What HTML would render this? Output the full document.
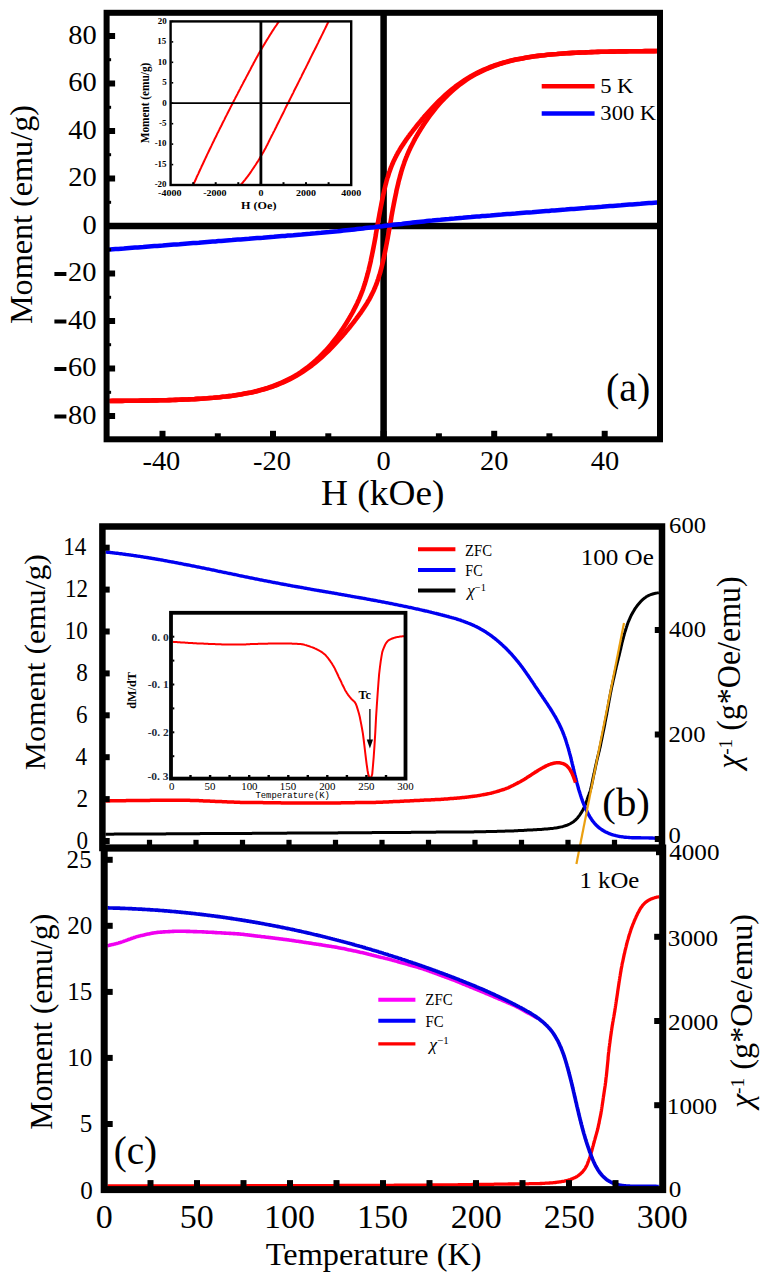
<!DOCTYPE html>
<html><head><meta charset="utf-8"><style>
html,body{margin:0;padding:0;background:#fff;}
body{width:776px;height:1280px;overflow:hidden;}
svg{display:block;}
</style></head><body>
<svg width="776" height="1280" viewBox="0 0 776 1280">
<rect width="776" height="1280" fill="#fff"/>
<line x1="383.6" y1="12.8" x2="383.6" y2="439.3" stroke="#000" stroke-width="6.5" stroke-linecap="butt"/>
<line x1="106.6" y1="226" x2="660" y2="226" stroke="#000" stroke-width="6.5" stroke-linecap="butt"/>
<polyline points="109.2,401 112.3,400.9 115.5,400.9 118.6,400.9 121.8,400.9 124.9,400.8 128,400.8 131.2,400.8 134.3,400.7 137.5,400.7 140.6,400.6 143.8,400.6 146.9,400.6 150.1,400.5 153.2,400.4 156.4,400.4 159.5,400.3 162.7,400.2 165.8,400.2 169,400.1 172.1,400 175.3,399.9 178.4,399.8 181.6,399.6 184.7,399.5 187.9,399.4 191,399.2 194.2,399.1 197.3,398.9 200.5,398.7 203.6,398.5 206.7,398.3 209.9,398 213,397.8 216.2,397.5 219.3,397.2 222.5,396.8 225.6,396.5 228.8,396.1 231.9,395.7 235.1,395.2 238.2,394.7 241.3,394.2 244.5,393.6 247.6,393 250.8,392.4 253.9,391.7 257,390.9 260.2,390.1 263.3,389.2 266.5,388.3 269.6,387.2 272.7,386.2 275.8,385 279,383.7 282.1,382.4 285.2,380.9 288.3,379.4 291.5,377.7 294.6,376 297.7,374.1 300.8,372.1 303.9,369.9 307,367.7 310,365.3 313.1,362.7 316.2,360 319.2,357.2 322.2,354.1 325.3,351 328.2,347.7 331.2,344.2 334.1,340.5 337.1,336.7 337.1,336.7 337.3,336.3 337.6,336 337.9,335.6 338.1,335.2 338.4,334.8 338.7,334.5 339,334.1 339.2,333.7 339.5,333.3 339.8,333 340,332.6 340.3,332.2 340.6,331.8 340.8,331.4 341.1,331 341.4,330.6 341.6,330.2 341.9,329.9 342.2,329.5 342.4,329.1 342.7,328.7 343,328.3 343.2,327.9 343.5,327.5 343.8,327.1 344,326.7 344.3,326.2 344.6,325.8 344.8,325.4 345.1,325 345.3,324.6 345.6,324.2 345.9,323.8 346.1,323.3 346.4,322.9 346.7,322.5 346.9,322.1 347.2,321.7 347.4,321.2 347.7,320.8 348,320.4 348.2,319.9 348.5,319.5 348.7,319.1 349,318.6 349.3,318.2 349.5,317.7 349.8,317.3 350,316.8 350.3,316.4 350.6,315.9 350.8,315.5 351.1,315 351.3,314.6 351.6,314.1 351.9,313.6 352.1,313.2 352.4,312.7 352.6,312.2 352.9,311.7 353.2,311.3 353.4,310.8 353.7,310.3 353.9,309.8 354.2,309.3 354.4,308.8 354.7,308.3 355,307.8 355.2,307.3 355.5,306.8 355.7,306.3 356,305.8 356.2,305.2 356.5,304.7 356.8,304.2 357,303.6 357.3,303.1 357.5,302.5 357.8,302 358.1,301.4 358.3,300.8 358.6,300.3 358.8,299.7 359.1,299.1 359.3,298.5 359.6,297.9 359.9,297.3 360.1,296.6 360.4,296 360.6,295.4 360.9,294.7 361.2,294.1 361.4,293.4 361.7,292.7 362,292 362.2,291.3 362.5,290.6 362.8,289.9 363,289.1 363.3,288.4 363.5,287.6 363.8,286.8 364.1,286 364.3,285.2 364.6,284.4 364.9,283.5 365.2,282.6 365.4,281.8 365.7,280.9 366,279.9 366.2,279 366.5,278 366.8,277 367.1,276 367.3,275 367.6,274 367.9,272.9 368.2,271.8 368.5,270.7 368.8,269.5 369,268.4 369.3,267.2 369.6,266 369.9,264.7 370.2,263.5 370.5,262.2 370.8,260.9 371,259.5 371.3,258.2 371.6,256.8 371.9,255.4 372.2,253.9 372.5,252.5 372.8,251 373.1,249.5 373.4,248 373.7,246.4 374,244.9 374.3,243.3 374.6,241.7 374.9,240.1 375.2,238.5 375.5,236.8 375.8,235.2 376,233.5 376.3,231.9 376.6,230.2 376.9,228.5 377.2,226.8 377.5,225.2 377.8,223.5 378.1,221.8 378.4,220.1 378.7,218.5 379,216.8 379.3,215.2 379.6,213.5 379.9,211.9 380.2,210.3 380.5,208.7 380.8,207.1 381.1,205.6 381.4,204 381.7,202.5 382,201 382.3,199.5 382.6,198.1 382.9,196.6 383.2,195.2 383.5,193.8 383.8,192.5 384.1,191.1 384.4,189.8 384.7,188.5 385,187.3 385.3,186 385.6,184.8 385.9,183.6 386.2,182.5 386.5,181.3 386.8,180.2 387.1,179.1 387.4,178 387.8,177 388.1,176 388.4,175 388.7,174 389,173 389.3,172.1 389.7,171.1 390,170.2 390.3,169.4 390.6,168.5 390.9,167.6 391.3,166.8 391.6,166 391.9,165.2 392.2,164.4 392.6,163.6 392.9,162.9 393.2,162.1 393.5,161.4 393.9,160.7 394.2,160 394.5,159.3 394.9,158.6 395.2,157.9 395.5,157.3 395.9,156.6 396.2,156 396.5,155.4 396.8,154.7 397.2,154.1 397.5,153.5 397.8,152.9 398.2,152.3 398.5,151.7 398.8,151.2 399.2,150.6 399.5,150 399.8,149.5 400.2,148.9 400.5,148.4 400.8,147.8 401.2,147.3 401.5,146.8 401.8,146.2 402.2,145.7 402.5,145.2 402.8,144.7 403.2,144.2 403.5,143.7 403.8,143.2 404.2,142.7 404.5,142.2 404.8,141.7 405.2,141.2 405.5,140.7 405.8,140.3 406.2,139.8 406.5,139.3 406.8,138.8 407.2,138.4 407.5,137.9 407.8,137.4 408.2,137 408.5,136.5 408.8,136.1 409.2,135.6 409.5,135.2 409.8,134.7 410.2,134.3 410.5,133.8 410.8,133.4 411.2,132.9 411.5,132.5 411.8,132.1 412.2,131.6 412.5,131.2 412.8,130.8 413.1,130.3 413.5,129.9 413.8,129.5 414.1,129.1 414.5,128.7 414.8,128.2 415.1,127.8 415.5,127.4 415.8,127 416.1,126.6 416.4,126.2 416.8,125.8 417.1,125.3 417.4,124.9 417.7,124.5 418.1,124.1 418.4,123.7 418.7,123.3 419.1,122.9 419.4,122.5 419.7,122.1 420,121.8 420.4,121.4 420.7,121 421,120.6 421.3,120.2 421.6,119.8 422,119.4 422.3,119 422.6,118.7 422.9,118.3 423.3,117.9 423.6,117.5 423.9,117.2 424.2,116.8 424.5,116.4 424.9,116 425.2,115.7 425.5,115.3 425.5,115.3 428.9,111.5 432.3,107.8 435.6,104.3 438.9,101 442.2,97.9 445.5,94.8 448.7,92 451.9,89.3 455.2,86.7 458.4,84.3 461.6,82.1 464.8,79.9 468,77.9 471.2,76 474.4,74.3 477.6,72.6 480.7,71.1 483.9,69.6 487.1,68.3 490.3,67 493.4,65.8 496.6,64.8 499.7,63.7 502.9,62.8 506.1,61.9 509.2,61.1 512.4,60.3 515.5,59.6 518.7,59 521.9,58.4 525,57.8 528.2,57.3 531.3,56.8 534.5,56.3 537.6,55.9 540.8,55.5 543.9,55.2 547.1,54.8 550.2,54.5 553.4,54.2 556.5,54 559.7,53.7 562.8,53.5 566,53.3 569.1,53.1 572.3,52.9 575.5,52.8 578.6,52.6 581.8,52.5 584.9,52.4 588.1,52.2 591.2,52.1 594.4,52 597.5,51.9 600.7,51.8 603.8,51.8 606.9,51.7 610.1,51.6 613.2,51.6 616.4,51.5 619.5,51.4 622.7,51.4 625.8,51.4 629,51.3 632.1,51.3 635.3,51.2 638.4,51.2 641.6,51.2 644.7,51.1 647.9,51.1 651,51.1 654.2,51.1 657.3,51" fill="none" stroke="#ff0000" stroke-width="4.6" stroke-linejoin="round" stroke-linecap="butt"/>
<polyline points="109.9,401 113,400.9 116.2,400.9 119.3,400.9 122.5,400.9 125.6,400.8 128.8,400.8 131.9,400.8 135.1,400.7 138.2,400.7 141.4,400.6 144.5,400.6 147.7,400.6 150.8,400.5 154,400.4 157.1,400.4 160.3,400.3 163.4,400.2 166.5,400.2 169.7,400.1 172.8,400 176,399.9 179.1,399.8 182.3,399.6 185.4,399.5 188.6,399.4 191.7,399.2 194.9,399.1 198.1,398.9 201.2,398.7 204.4,398.5 207.5,398.3 210.7,398 213.8,397.8 217,397.5 220.1,397.2 223.3,396.8 226.4,396.5 229.6,396.1 232.7,395.7 235.9,395.2 239,394.7 242.2,394.2 245.3,393.6 248.5,393 251.7,392.4 254.8,391.7 258,390.9 261.1,390.1 264.3,389.2 267.5,388.3 270.6,387.2 273.8,386.2 276.9,385 280.1,383.7 283.3,382.4 286.5,380.9 289.6,379.4 292.8,377.7 296,376 299.2,374.1 302.4,372.1 305.6,369.9 308.8,367.7 312,365.3 315.3,362.7 318.5,360 321.7,357.2 325,354.1 328.3,351 331.6,347.7 334.9,344.2 338.3,340.5 341.7,336.7 341.7,336.7 342,336.3 342.3,336 342.7,335.6 343,335.2 343.3,334.8 343.6,334.5 343.9,334.1 344.3,333.7 344.6,333.3 344.9,333 345.2,332.6 345.6,332.2 345.9,331.8 346.2,331.4 346.5,331 346.8,330.6 347.2,330.2 347.5,329.9 347.8,329.5 348.1,329.1 348.5,328.7 348.8,328.3 349.1,327.9 349.5,327.5 349.8,327.1 350.1,326.7 350.4,326.2 350.8,325.8 351.1,325.4 351.4,325 351.7,324.6 352.1,324.2 352.4,323.8 352.7,323.3 353.1,322.9 353.4,322.5 353.7,322.1 354.1,321.7 354.4,321.2 354.7,320.8 355,320.4 355.4,319.9 355.7,319.5 356,319.1 356.4,318.6 356.7,318.2 357,317.7 357.4,317.3 357.7,316.8 358,316.4 358.4,315.9 358.7,315.5 359,315 359.4,314.6 359.7,314.1 360,313.6 360.4,313.2 360.7,312.7 361,312.2 361.4,311.7 361.7,311.3 362,310.8 362.4,310.3 362.7,309.8 363,309.3 363.4,308.8 363.7,308.3 364,307.8 364.4,307.3 364.7,306.8 365,306.3 365.4,305.8 365.7,305.2 366,304.7 366.4,304.2 366.7,303.6 367,303.1 367.4,302.5 367.7,302 368,301.4 368.4,300.8 368.7,300.3 369,299.7 369.4,299.1 369.7,298.5 370,297.9 370.4,297.3 370.7,296.6 371,296 371.3,295.4 371.7,294.7 372,294.1 372.3,293.4 372.7,292.7 373,292 373.3,291.3 373.7,290.6 374,289.9 374.3,289.1 374.6,288.4 375,287.6 375.3,286.8 375.6,286 375.9,285.2 376.3,284.4 376.6,283.5 376.9,282.6 377.2,281.8 377.5,280.9 377.9,279.9 378.2,279 378.5,278 378.8,277 379.1,276 379.4,275 379.8,274 380.1,272.9 380.4,271.8 380.7,270.7 381,269.5 381.3,268.4 381.6,267.2 381.9,266 382.2,264.7 382.5,263.5 382.8,262.2 383.1,260.9 383.4,259.5 383.7,258.2 384,256.8 384.3,255.4 384.6,253.9 384.9,252.5 385.2,251 385.5,249.5 385.8,248 386.1,246.4 386.4,244.9 386.7,243.3 387,241.7 387.3,240.1 387.6,238.5 387.9,236.8 388.2,235.2 388.5,233.5 388.8,231.9 389.1,230.2 389.4,228.5 389.7,226.8 390,225.2 390.3,223.5 390.6,221.8 390.9,220.1 391.2,218.5 391.4,216.8 391.7,215.2 392,213.5 392.3,211.9 392.6,210.3 392.9,208.7 393.2,207.1 393.5,205.6 393.8,204 394.1,202.5 394.4,201 394.7,199.5 395,198.1 395.3,196.6 395.6,195.2 395.9,193.8 396.2,192.5 396.4,191.1 396.7,189.8 397,188.5 397.3,187.3 397.6,186 397.9,184.8 398.2,183.6 398.4,182.5 398.7,181.3 399,180.2 399.3,179.1 399.6,178 399.9,177 400.1,176 400.4,175 400.7,174 401,173 401.2,172.1 401.5,171.1 401.8,170.2 402,169.4 402.3,168.5 402.6,167.6 402.9,166.8 403.1,166 403.4,165.2 403.7,164.4 403.9,163.6 404.2,162.9 404.4,162.1 404.7,161.4 405,160.7 405.2,160 405.5,159.3 405.8,158.6 406,157.9 406.3,157.3 406.6,156.6 406.8,156 407.1,155.4 407.3,154.7 407.6,154.1 407.9,153.5 408.1,152.9 408.4,152.3 408.6,151.7 408.9,151.2 409.1,150.6 409.4,150 409.7,149.5 409.9,148.9 410.2,148.4 410.4,147.8 410.7,147.3 411,146.8 411.2,146.2 411.5,145.7 411.7,145.2 412,144.7 412.2,144.2 412.5,143.7 412.8,143.2 413,142.7 413.3,142.2 413.5,141.7 413.8,141.2 414,140.7 414.3,140.3 414.6,139.8 414.8,139.3 415.1,138.8 415.3,138.4 415.6,137.9 415.9,137.4 416.1,137 416.4,136.5 416.6,136.1 416.9,135.6 417.2,135.2 417.4,134.7 417.7,134.3 417.9,133.8 418.2,133.4 418.5,132.9 418.7,132.5 419,132.1 419.2,131.6 419.5,131.2 419.8,130.8 420,130.3 420.3,129.9 420.5,129.5 420.8,129.1 421.1,128.7 421.3,128.2 421.6,127.8 421.9,127.4 422.1,127 422.4,126.6 422.6,126.2 422.9,125.8 423.2,125.3 423.4,124.9 423.7,124.5 424,124.1 424.2,123.7 424.5,123.3 424.8,122.9 425,122.5 425.3,122.1 425.6,121.8 425.8,121.4 426.1,121 426.4,120.6 426.6,120.2 426.9,119.8 427.2,119.4 427.4,119 427.7,118.7 428,118.3 428.2,117.9 428.5,117.5 428.8,117.2 429.1,116.8 429.3,116.4 429.6,116 429.9,115.7 430.1,115.3 430.1,115.3 433.1,111.5 436,107.8 439,104.3 441.9,101 445,97.9 448,94.8 451,92 454.1,89.3 457.2,86.7 460.2,84.3 463.3,82.1 466.4,79.9 469.5,77.9 472.6,76 475.7,74.3 478.9,72.6 482,71.1 485.1,69.6 488.2,68.3 491.4,67 494.5,65.8 497.6,64.8 500.7,63.7 503.9,62.8 507,61.9 510.2,61.1 513.3,60.3 516.4,59.6 519.6,59 522.7,58.4 525.9,57.8 529,57.3 532.1,56.8 535.3,56.3 538.4,55.9 541.6,55.5 544.7,55.2 547.9,54.8 551,54.5 554.2,54.2 557.3,54 560.5,53.7 563.6,53.5 566.7,53.3 569.9,53.1 573,52.9 576.2,52.8 579.3,52.6 582.5,52.5 585.6,52.4 588.8,52.2 591.9,52.1 595.1,52 598.2,51.9 601.4,51.8 604.5,51.8 607.7,51.7 610.8,51.6 614,51.6 617.1,51.5 620.3,51.4 623.4,51.4 626.6,51.4 629.7,51.3 632.9,51.3 636,51.2 639.2,51.2 642.3,51.2 645.4,51.1 648.6,51.1 651.7,51.1 654.9,51.1 658,51" fill="none" stroke="#ff0000" stroke-width="4.6" stroke-linejoin="round" stroke-linecap="butt"/>
<polyline points="107.2,249.7 110,249.5 112.8,249.3 115.5,249.1 118.3,248.9 121.1,248.7 123.9,248.5 126.6,248.2 129.4,248 132.2,247.8 135,247.6 137.8,247.4 140.5,247.2 143.3,247 146.1,246.7 148.9,246.5 151.6,246.3 154.4,246.1 157.2,245.9 160,245.7 162.8,245.5 165.5,245.2 168.3,245 171.1,244.8 173.9,244.6 176.6,244.4 179.4,244.2 182.2,243.9 185,243.7 187.8,243.5 190.5,243.3 193.3,243.1 196.1,242.9 198.9,242.7 201.6,242.4 204.4,242.2 207.2,242 210,241.8 212.8,241.6 215.5,241.4 218.3,241.1 221.1,240.9 223.9,240.7 226.6,240.5 229.4,240.3 232.2,240.1 235,239.8 237.8,239.6 240.5,239.4 243.3,239.2 246.1,239 248.9,238.8 251.7,238.5 254.4,238.3 257.2,238.1 260,237.9 262.8,237.7 265.5,237.4 268.3,237.2 271.1,237 273.9,236.8 276.7,236.5 279.4,236.3 282.2,236.1 285,235.9 287.8,235.6 290.5,235.4 293.3,235.2 296.1,234.9 298.9,234.7 301.7,234.5 304.4,234.2 307.2,234 310,233.8 312.8,233.5 315.5,233.3 318.3,233 321.1,232.8 323.9,232.5 326.7,232.2 329.4,232 332.2,231.7 335,231.4 337.8,231.2 340.5,230.9 343.3,230.6 346.1,230.3 348.9,230 351.7,229.7 354.4,229.4 357.2,229.1 360,228.8 362.8,228.5 365.5,228.1 368.3,227.8 371.1,227.5 373.9,227.2 376.7,226.8 379.4,226.5 382.2,226.2 385,225.8 387.8,225.5 390.5,225.2 393.3,224.8 396.1,224.5 398.9,224.2 401.7,223.9 404.4,223.5 407.2,223.2 410,222.9 412.8,222.6 415.5,222.3 418.3,222 421.1,221.7 423.9,221.4 426.7,221.1 429.4,220.8 432.2,220.6 435,220.3 437.8,220 440.5,219.8 443.3,219.5 446.1,219.2 448.9,219 451.7,218.7 454.4,218.5 457.2,218.2 460,218 462.8,217.8 465.5,217.5 468.3,217.3 471.1,217.1 473.9,216.8 476.7,216.6 479.4,216.4 482.2,216.1 485,215.9 487.8,215.7 490.5,215.5 493.3,215.2 496.1,215 498.9,214.8 501.7,214.6 504.4,214.3 507.2,214.1 510,213.9 512.8,213.7 515.5,213.5 518.3,213.2 521.1,213 523.9,212.8 526.7,212.6 529.4,212.4 532.2,212.2 535,211.9 537.8,211.7 540.6,211.5 543.3,211.3 546.1,211.1 548.9,210.9 551.7,210.6 554.4,210.4 557.2,210.2 560,210 562.8,209.8 565.6,209.6 568.3,209.3 571.1,209.1 573.9,208.9 576.7,208.7 579.4,208.5 582.2,208.3 585,208.1 587.8,207.8 590.6,207.6 593.3,207.4 596.1,207.2 598.9,207 601.7,206.8 604.4,206.5 607.2,206.3 610,206.1 612.8,205.9 615.6,205.7 618.3,205.5 621.1,205.3 623.9,205 626.7,204.8 629.4,204.6 632.2,204.4 635,204.2 637.8,204 640.6,203.8 643.3,203.5 646.1,203.3 648.9,203.1 651.7,202.9 654.4,202.7 657.2,202.5 660,202.3" fill="none" stroke="#0000ff" stroke-width="4.5" stroke-linejoin="round" stroke-linecap="butt"/>
<rect x="106.6" y="12.8" width="553.4" height="426.5" fill="none" stroke="#000" stroke-width="6.0"/>
<rect x="108.6" y="413" width="6.5" height="6" fill="#000"/>
<rect x="108.6" y="365.5" width="6.5" height="6" fill="#000"/>
<rect x="108.6" y="318" width="6.5" height="6" fill="#000"/>
<rect x="108.6" y="270.5" width="6.5" height="6" fill="#000"/>
<rect x="108.6" y="223" width="6.5" height="6" fill="#000"/>
<rect x="108.6" y="175.5" width="6.5" height="6" fill="#000"/>
<rect x="108.6" y="128" width="6.5" height="6" fill="#000"/>
<rect x="108.6" y="80.5" width="6.5" height="6" fill="#000"/>
<rect x="108.6" y="33" width="6.5" height="6" fill="#000"/>
<rect x="108.6" y="390.8" width="2.5" height="3" fill="#000"/>
<rect x="108.6" y="343.2" width="2.5" height="3" fill="#000"/>
<rect x="108.6" y="295.8" width="2.5" height="3" fill="#000"/>
<rect x="108.6" y="248.2" width="2.5" height="3" fill="#000"/>
<rect x="108.6" y="200.8" width="2.5" height="3" fill="#000"/>
<rect x="108.6" y="153.2" width="2.5" height="3" fill="#000"/>
<rect x="108.6" y="105.8" width="2.5" height="3" fill="#000"/>
<rect x="108.6" y="58.2" width="2.5" height="3" fill="#000"/>
<rect x="159.5" y="430.8" width="6" height="6.5" fill="#000"/>
<rect x="270" y="430.8" width="6" height="6.5" fill="#000"/>
<rect x="380.6" y="430.8" width="6" height="6.5" fill="#000"/>
<rect x="491.2" y="430.8" width="6" height="6.5" fill="#000"/>
<rect x="601.7" y="430.8" width="6" height="6.5" fill="#000"/>
<rect x="214.8" y="433.3" width="6" height="4" fill="#000"/>
<rect x="325.3" y="433.3" width="6" height="4" fill="#000"/>
<rect x="435.9" y="433.3" width="6" height="4" fill="#000"/>
<rect x="546.4" y="433.3" width="6" height="4" fill="#000"/>
<text transform="translate(68.36,43.56) scale(1.0468,1)" font-family='"Liberation Serif", serif' font-size="27.21" font-weight="normal">80</text>
<text transform="translate(82.50,233.71) scale(1.0468,1)" font-family='"Liberation Serif", serif' font-size="27.21" font-weight="normal">0</text>
<text transform="translate(68.26,186.21) scale(1.0468,1)" font-family='"Liberation Serif", serif' font-size="27.21" font-weight="normal">20</text>
<text transform="translate(68.26,138.71) scale(1.0468,1)" font-family='"Liberation Serif", serif' font-size="27.21" font-weight="normal">40</text>
<text transform="translate(68.26,91.21) scale(1.0468,1)" font-family='"Liberation Serif", serif' font-size="27.21" font-weight="normal">60</text>
<text transform="translate(68.06,423.71) scale(1.0468,1)" font-family='"Liberation Serif", serif' font-size="27.21" font-weight="normal">80</text>
<rect x="54.4" y="414.5" width="12" height="4" fill="#000"/>
<text transform="translate(68.06,376.21) scale(1.0468,1)" font-family='"Liberation Serif", serif' font-size="27.21" font-weight="normal">60</text>
<rect x="54.4" y="367" width="12" height="4" fill="#000"/>
<text transform="translate(68.06,328.71) scale(1.0468,1)" font-family='"Liberation Serif", serif' font-size="27.21" font-weight="normal">40</text>
<rect x="54.4" y="319.5" width="12" height="4" fill="#000"/>
<text transform="translate(68.06,281.21) scale(1.0468,1)" font-family='"Liberation Serif", serif' font-size="27.21" font-weight="normal">20</text>
<rect x="54.4" y="272" width="12" height="4" fill="#000"/>
<text transform="translate(142.40,470.06) scale(1.0468,1)" font-family='"Liberation Serif", serif' font-size="27.21" font-weight="normal">-40</text>
<text transform="translate(252.96,470.06) scale(1.0468,1)" font-family='"Liberation Serif", serif' font-size="27.21" font-weight="normal">-20</text>
<text transform="translate(376.48,470.06) scale(1.0468,1)" font-family='"Liberation Serif", serif' font-size="27.21" font-weight="normal">0</text>
<text transform="translate(479.92,470.06) scale(1.0468,1)" font-family='"Liberation Serif", serif' font-size="27.21" font-weight="normal">20</text>
<text transform="translate(590.77,470.06) scale(1.0468,1)" font-family='"Liberation Serif", serif' font-size="27.21" font-weight="normal">40</text>
<text transform="translate(321.08,505.29) scale(1.0308,1)" font-family='"Liberation Serif", serif' font-size="36.22" font-weight="normal">H (kOe)</text>
<text transform="translate(31.54,324.07) rotate(-90) scale(1.0313,1)" font-family='"Liberation Serif", serif' font-size="31.22" font-weight="normal">Moment (emu/g)</text>
<line x1="541.7" y1="86.2" x2="594.6" y2="86.2" stroke="#ff0000" stroke-width="4.5" stroke-linecap="butt"/>
<line x1="541.7" y1="113.6" x2="594.6" y2="113.6" stroke="#0000ff" stroke-width="4.5" stroke-linecap="butt"/>
<text transform="translate(600.14,93.09) scale(1.0599,1)" font-family='"Liberation Serif", serif' font-size="21.36" font-weight="normal">5 K</text>
<text transform="translate(600.37,120.37) scale(1.0513,1)" font-family='"Liberation Serif", serif' font-size="21.47" font-weight="normal">300 K</text>
<text transform="translate(606.00,400.64) scale(1.0145,1)" font-family='"Liberation Serif", serif' font-size="39.33" font-weight="normal">(a)</text>
<rect x="170.6" y="21.4" width="180.6" height="163.6" fill="#fff"/>
<polyline points="193.2,185 194,183.1 194.9,181.2 195.8,179.3 196.6,177.3 197.5,175.4 198.4,173.6 199.2,171.7 200.1,169.8 201,167.9 201.8,166 202.7,164.2 203.6,162.3 204.4,160.5 205.3,158.6 206.2,156.8 207,154.9 207.9,153.1 208.8,151.3 209.6,149.5 210.5,147.7 211.4,145.9 212.2,144.1 213.1,142.3 214,140.5 214.8,138.7 215.7,137 216.6,135.2 217.4,133.4 218.3,131.7 219.2,129.9 220,128.2 220.9,126.5 221.8,124.7 222.6,123 223.5,121.3 224.4,119.6 225.2,117.8 226.1,116.1 227,114.4 227.8,112.7 228.7,111 229.6,109.3 230.4,107.6 231.3,105.9 232.2,104.2 233,102.5 233.9,100.8 234.8,99.1 235.6,97.4 236.5,95.8 237.4,94.1 238.2,92.4 239.1,90.8 240,89.1 240.8,87.4 241.7,85.8 242.6,84.1 243.4,82.5 244.3,80.8 245.2,79.2 246,77.6 246.9,75.9 247.8,74.3 248.6,72.7 249.5,71 250.4,69.4 251.2,67.7 252.1,66.1 253,64.5 253.8,62.8 254.7,61.2 255.6,59.6 256.4,58 257.3,56.4 258.2,54.8 259,53.3 259.9,51.8 260.8,50.3 261.6,48.8 262.5,47.3 263.4,45.8 264.2,44.4 265.1,42.9 266,41.5 266.8,40.1 267.7,38.7 268.6,37.3 269.4,35.9 270.3,34.5 271.2,33.1 272,31.8 272.9,30.4 273.8,29.1 274.6,27.8 275.5,26.5 276.4,25.2 277.2,23.9 278.1,22.6 279,21.4" fill="none" stroke="#ff0000" stroke-width="2.0" stroke-linejoin="round" stroke-linecap="butt"/>
<polyline points="240.6,185 241.5,184 242.4,183 243.3,181.9 244.1,180.9 245,179.8 245.9,178.6 246.8,177.5 247.7,176.3 248.6,175.1 249.5,173.9 250.4,172.6 251.3,171.3 252.1,170 253,168.7 253.9,167.4 254.8,166 255.7,164.7 256.6,163.3 257.5,161.9 258.4,160.5 259.3,159 260.1,157.6 261,156.1 261.9,154.6 262.8,153.1 263.7,151.5 264.6,149.8 265.5,148.2 266.4,146.4 267.3,144.7 268.2,142.9 269,141.2 269.9,139.4 270.8,137.6 271.7,135.8 272.6,134.1 273.5,132.3 274.4,130.6 275.3,128.8 276.2,127 277,125.3 277.9,123.5 278.8,121.7 279.7,119.9 280.6,118.1 281.5,116.3 282.4,114.5 283.3,112.7 284.2,110.9 285,109.1 285.9,107.3 286.8,105.5 287.7,103.7 288.6,102 289.5,100.2 290.4,98.4 291.3,96.6 292.2,94.8 293.1,93.1 293.9,91.3 294.8,89.5 295.7,87.7 296.6,86 297.5,84.2 298.4,82.4 299.3,80.6 300.2,78.8 301.1,77.1 301.9,75.3 302.8,73.5 303.7,71.7 304.6,69.9 305.5,68.2 306.4,66.4 307.3,64.6 308.2,62.8 309.1,61 309.9,59.2 310.8,57.4 311.7,55.6 312.6,53.8 313.5,52 314.4,50.3 315.3,48.5 316.2,46.7 317.1,44.9 318,43.1 318.8,41.3 319.7,39.5 320.6,37.7 321.5,35.9 322.4,34.1 323.3,32.2 324.2,30.4 325.1,28.6 326,26.8 326.8,25 327.7,23.2 328.6,21.4" fill="none" stroke="#ff0000" stroke-width="2.0" stroke-linejoin="round" stroke-linecap="butt"/>
<line x1="260.9" y1="21.4" x2="260.9" y2="185" stroke="#000" stroke-width="2.8" stroke-linecap="butt"/>
<line x1="170.6" y1="103.2" x2="351.2" y2="103.2" stroke="#000" stroke-width="1.8" stroke-linecap="butt"/>
<rect x="170.6" y="21.4" width="180.6" height="163.6" fill="none" stroke="#000" stroke-width="2.4"/>
<rect x="171.6" y="184.2" width="1.6" height="1.6" fill="#000"/>
<rect x="171.6" y="163.8" width="1.6" height="1.6" fill="#000"/>
<rect x="171.6" y="143.3" width="1.6" height="1.6" fill="#000"/>
<rect x="171.6" y="122.9" width="1.6" height="1.6" fill="#000"/>
<rect x="171.6" y="102.4" width="1.6" height="1.6" fill="#000"/>
<rect x="171.6" y="82" width="1.6" height="1.6" fill="#000"/>
<rect x="171.6" y="61.5" width="1.6" height="1.6" fill="#000"/>
<rect x="171.6" y="41.1" width="1.6" height="1.6" fill="#000"/>
<rect x="171.6" y="20.6" width="1.6" height="1.6" fill="#000"/>
<rect x="192.2" y="182.2" width="2" height="1.8" fill="#000"/>
<rect x="214.7" y="182.2" width="2" height="1.8" fill="#000"/>
<rect x="237.3" y="182.2" width="2" height="1.8" fill="#000"/>
<rect x="259.9" y="182.2" width="2" height="1.8" fill="#000"/>
<rect x="282.5" y="182.2" width="2" height="1.8" fill="#000"/>
<rect x="305" y="182.2" width="2" height="1.8" fill="#000"/>
<rect x="327.6" y="182.2" width="2" height="1.8" fill="#000"/>
<text transform="translate(157.28,44.01) scale(0.9860,1)" font-family='"Liberation Serif", serif' font-size="9.10" font-weight="bold">15</text>
<text transform="translate(154.63,187.31) scale(0.9860,1)" font-family='"Liberation Serif", serif' font-size="9.10" font-weight="bold">-20</text>
<text transform="translate(154.63,166.91) scale(0.9860,1)" font-family='"Liberation Serif", serif' font-size="9.10" font-weight="bold">-15</text>
<text transform="translate(154.63,146.41) scale(0.9860,1)" font-family='"Liberation Serif", serif' font-size="9.10" font-weight="bold">-10</text>
<text transform="translate(159.12,125.96) scale(0.9860,1)" font-family='"Liberation Serif", serif' font-size="9.10" font-weight="bold">-5</text>
<text transform="translate(162.17,105.51) scale(0.9860,1)" font-family='"Liberation Serif", serif' font-size="9.10" font-weight="bold">0</text>
<text transform="translate(162.17,85.06) scale(0.9860,1)" font-family='"Liberation Serif", serif' font-size="9.10" font-weight="bold">5</text>
<text transform="translate(157.68,64.61) scale(0.9860,1)" font-family='"Liberation Serif", serif' font-size="9.10" font-weight="bold">10</text>
<text transform="translate(157.68,23.71) scale(0.9860,1)" font-family='"Liberation Serif", serif' font-size="9.10" font-weight="bold">20</text>
<text transform="translate(296.00,195.83) scale(1.1724,1)" font-family='"Liberation Serif", serif' font-size="8.53" font-weight="bold">2000</text>
<text transform="translate(158.10,195.83) scale(1.1724,1)" font-family='"Liberation Serif", serif' font-size="8.53" font-weight="bold">-4000</text>
<text transform="translate(203.25,195.83) scale(1.1724,1)" font-family='"Liberation Serif", serif' font-size="8.53" font-weight="bold">-2000</text>
<text transform="translate(258.40,195.83) scale(1.1724,1)" font-family='"Liberation Serif", serif' font-size="8.53" font-weight="bold">0</text>
<text transform="translate(341.35,195.83) scale(1.1724,1)" font-family='"Liberation Serif", serif' font-size="8.53" font-weight="bold">4000</text>
<text transform="translate(241.06,208.80) scale(1.2140,1)" font-family='"Liberation Serif", serif' font-size="10.00" font-weight="bold">H (Oe)</text>
<text transform="translate(149.49,143.23) rotate(-90) scale(0.9081,1)" font-family='"Liberation Serif", serif' font-size="12.44" font-weight="bold">Moment (emu/g)</text>
<polyline points="105.5,834.2 106.5,834.2 107.5,834.2 108.5,834.2 109.5,834.2 110.5,834.2 111.5,834.2 112.5,834.2 113.5,834.2 114.5,834.1 115.5,834.1 116.5,834.1 117.5,834.1 118.5,834.1 119.5,834.1 120.5,834.1 121.5,834.1 122.5,834.1 123.5,834.1 124.5,834.1 125.5,834.1 126.5,834.1 127.5,834.1 128.5,834.1 129.5,834.1 130.5,834.1 131.5,834 132.5,834 133.5,834 134.5,834 135.5,834 136.5,834 137.5,834 138.5,834 139.5,834 140.5,834 141.5,834 142.5,834 143.5,834 144.5,834 145.5,834 146.5,834 147.5,834 148.5,834 149.5,833.9 150.5,833.9 151.5,833.9 152.5,833.9 153.5,833.9 154.5,833.9 155.5,833.9 156.5,833.9 157.5,833.9 158.5,833.9 159.5,833.9 160.5,833.9 161.5,833.9 162.5,833.9 163.5,833.9 164.5,833.9 165.5,833.9 166.5,833.8 167.5,833.8 168.5,833.8 169.5,833.8 170.5,833.8 171.5,833.8 172.5,833.8 173.5,833.8 174.5,833.8 175.5,833.8 176.5,833.8 177.5,833.8 178.5,833.8 179.5,833.8 180.5,833.8 181.5,833.8 182.5,833.8 183.5,833.7 184.5,833.7 185.5,833.7 186.5,833.7 187.5,833.7 188.5,833.7 189.5,833.7 190.5,833.7 191.5,833.7 192.5,833.7 193.5,833.7 194.5,833.7 195.5,833.7 196.5,833.7 197.5,833.7 198.5,833.7 199.5,833.7 200.5,833.6 201.5,833.6 202.5,833.6 203.5,833.6 204.5,833.6 205.5,833.6 206.5,833.6 207.5,833.6 208.5,833.6 209.5,833.6 210.5,833.6 211.5,833.6 212.5,833.6 213.5,833.6 214.5,833.6 215.5,833.6 216.5,833.6 217.5,833.6 218.5,833.5 219.5,833.5 220.5,833.5 221.5,833.5 222.5,833.5 223.5,833.5 224.5,833.5 225.5,833.5 226.5,833.5 227.5,833.5 228.5,833.5 229.5,833.5 230.5,833.5 231.5,833.5 232.5,833.5 233.5,833.5 234.5,833.5 235.5,833.4 236.5,833.4 237.5,833.4 238.5,833.4 239.5,833.4 240.5,833.4 241.5,833.4 242.5,833.4 243.5,833.4 244.5,833.4 245.5,833.4 246.5,833.4 247.5,833.4 248.5,833.4 249.5,833.4 250.5,833.4 251.5,833.4 252.5,833.3 253.5,833.3 254.5,833.3 255.5,833.3 256.5,833.3 257.5,833.3 258.5,833.3 259.5,833.3 260.5,833.3 261.5,833.3 262.5,833.3 263.5,833.3 264.5,833.3 265.5,833.3 266.5,833.3 267.5,833.3 268.5,833.3 269.5,833.3 270.5,833.2 271.5,833.2 272.5,833.2 273.5,833.2 274.5,833.2 275.5,833.2 276.5,833.2 277.5,833.2 278.5,833.2 279.5,833.2 280.5,833.2 281.5,833.2 282.5,833.2 283.5,833.2 284.5,833.2 285.5,833.2 286.5,833.2 287.5,833.1 288.5,833.1 289.5,833.1 290.5,833.1 291.5,833.1 292.5,833.1 293.5,833.1 294.5,833.1 295.5,833.1 296.5,833.1 297.5,833.1 298.5,833.1 299.5,833.1 300.5,833.1 301.5,833.1 302.5,833.1 303.5,833.1 304.5,833 305.5,833 306.5,833 307.5,833 308.5,833 309.5,833 310.5,833 311.5,833 312.5,833 313.5,833 314.5,833 315.5,833 316.5,833 317.5,833 318.5,833 319.5,833 320.5,833 321.5,832.9 322.5,832.9 323.5,832.9 324.5,832.9 325.5,832.9 326.5,832.9 327.5,832.9 328.5,832.9 329.5,832.9 330.5,832.9 331.5,832.9 332.5,832.9 333.5,832.9 334.5,832.9 335.5,832.9 336.5,832.9 337.5,832.9 338.5,832.8 339.5,832.8 340.5,832.8 341.5,832.8 342.5,832.8 343.5,832.8 344.5,832.8 345.5,832.8 346.5,832.8 347.5,832.8 348.5,832.8 349.5,832.8 350.5,832.8 351.5,832.8 352.5,832.8 353.5,832.8 354.5,832.8 355.5,832.7 356.5,832.7 357.5,832.7 358.5,832.7 359.5,832.7 360.5,832.7 361.5,832.7 362.5,832.7 363.5,832.7 364.5,832.7 365.5,832.7 366.5,832.7 367.5,832.7 368.5,832.7 369.5,832.7 370.5,832.7 371.5,832.7 372.5,832.6 373.5,832.6 374.5,832.6 375.5,832.6 376.5,832.6 377.5,832.6 378.5,832.6 379.5,832.6 380.5,832.6 381.5,832.6 382.5,832.6 383.5,832.6 384.5,832.6 385.5,832.6 386.5,832.5 387.5,832.5 388.5,832.5 389.5,832.5 390.5,832.5 391.5,832.5 392.5,832.5 393.5,832.5 394.5,832.5 395.5,832.5 396.5,832.5 397.5,832.5 398.5,832.5 399.5,832.4 400.5,832.4 401.5,832.4 402.5,832.4 403.5,832.4 404.5,832.4 405.5,832.4 406.5,832.4 407.5,832.4 408.5,832.4 409.5,832.4 410.5,832.4 411.5,832.3 412.5,832.3 413.5,832.3 414.5,832.3 415.5,832.3 416.5,832.3 417.5,832.3 418.5,832.3 419.5,832.3 420.5,832.3 421.5,832.3 422.5,832.3 423.5,832.3 424.5,832.2 425.5,832.2 426.5,832.2 427.5,832.2 428.5,832.2 429.5,832.2 430.5,832.2 431.5,832.2 432.5,832.2 433.5,832.2 434.5,832.2 435.5,832.2 436.5,832.1 437.5,832.1 438.5,832.1 439.5,832.1 440.5,832.1 441.5,832.1 442.5,832.1 443.5,832.1 444.5,832.1 445.5,832.1 446.5,832.1 447.5,832.1 448.5,832.1 449.5,832 450.5,832 451.5,832 452.5,832 453.5,832 454.5,832 455.5,832 456.5,832 457.5,832 458.5,832 459.5,832 460.5,832 461.5,831.9 462.5,831.9 463.5,831.9 464.5,831.9 465.5,831.9 466.5,831.9 467.5,831.9 468.5,831.9 469.5,831.9 470.5,831.9 471.5,831.9 472.5,831.9 473.5,831.9 474.5,831.8 475.5,831.8 476.5,831.8 477.5,831.8 478.5,831.8 479.5,831.8 480.5,831.8 481.5,831.8 482.5,831.7 483.5,831.7 484.5,831.7 485.5,831.7 486.5,831.6 487.5,831.6 488.5,831.6 489.5,831.6 490.5,831.5 491.5,831.5 492.5,831.5 493.5,831.5 494.5,831.4 495.5,831.4 496.5,831.4 497.5,831.3 498.5,831.3 499.5,831.3 500.5,831.3 501.5,831.2 502.5,831.2 503.5,831.2 504.5,831.2 505.5,831.1 506.5,831.1 507.5,831.1 508.5,831.1 509.5,831 510.5,831 511.5,830.9 512.5,830.9 513.5,830.9 514.5,830.8 515.5,830.8 516.5,830.7 517.5,830.7 518.5,830.6 519.5,830.6 520.5,830.5 521.5,830.5 522.5,830.4 523.5,830.4 524.5,830.3 525.5,830.2 526.5,830.2 527.5,830.1 528.5,830.1 529.5,830 530.5,830 531.5,829.9 532.5,829.9 533.5,829.8 534.5,829.8 535.4,829.7 536.4,829.7 537.4,829.6 538.4,829.6 539.4,829.5 540.4,829.4 541.4,829.4 542.4,829.3 543.4,829.2 544.4,829.1 545.4,829 546.4,829 547.4,828.9 548.4,828.8 549.4,828.7 550.4,828.6 551.4,828.5 552.4,828.4 553.4,828.3 554.4,828.1 555.4,828 556.4,827.9 557.3,827.7 558.3,827.5 559.3,827.3 560.3,827.1 561.2,826.9 562.2,826.7 563.2,826.4 564.1,826.1 565.1,825.8 566,825.5 567,825.2 567.9,824.8 568.8,824.4 569.7,824 570.6,823.5 571.4,823 572.3,822.5 573.1,821.9 573.9,821.4 574.7,820.7 575.4,820.1 576.1,819.4 576.8,818.7 577.5,818 578.1,817.2 578.7,816.4 579.3,815.6 579.9,814.8 580.4,814 581,813.2 581.5,812.3 582,811.4 582.5,810.6 583,809.7 583.5,808.8 583.9,807.9 584.3,807 584.7,806.1 585.1,805.2 585.5,804.3 585.8,803.3 586.2,802.4 586.5,801.4 586.8,800.5 587.1,799.6 587.4,798.6 587.8,797.7 588.1,796.7 588.4,795.8 588.8,794.8 589.1,793.9 589.4,792.9 589.8,792 590.1,791.1 590.4,790.1 590.6,789.1 590.9,788.2 591.1,787.2 591.4,786.2 591.6,785.3 591.8,784.3 592,783.3 592.2,782.3 592.4,781.4 592.6,780.4 592.8,779.4 593,778.4 593.2,777.4 593.4,776.5 593.6,775.5 593.8,774.5 594.1,773.5 594.3,772.5 594.5,771.6 594.7,770.6 594.9,769.6 595.1,768.6 595.3,767.7 595.5,766.7 595.7,765.7 595.9,764.7 596.2,763.8 596.4,762.8 596.6,761.8 596.8,760.8 597,759.9 597.3,758.9 597.5,757.9 597.7,756.9 598,756 598.2,755 598.5,754 598.7,753 598.9,752.1 599.2,751.1 599.4,750.1 599.6,749.2 599.8,748.2 600.1,747.2 600.3,746.2 600.5,745.3 600.7,744.3 600.9,743.3 601.1,742.3 601.3,741.3 601.5,740.4 601.7,739.4 601.9,738.4 602.1,737.4 602.3,736.4 602.5,735.5 602.7,734.5 602.9,733.5 603.1,732.5 603.3,731.5 603.5,730.6 603.7,729.6 603.9,728.6 604.1,727.6 604.3,726.6 604.5,725.7 604.7,724.7 604.9,723.7 605,722.7 605.2,721.7 605.4,720.8 605.6,719.8 605.8,718.8 606,717.8 606.2,716.8 606.4,715.8 606.6,714.9 606.8,713.9 606.9,712.9 607.1,711.9 607.3,710.9 607.5,709.9 607.6,709 607.8,708 608,707 608.2,706 608.3,705 608.5,704 608.7,703 608.9,702.1 609,701.1 609.2,700.1 609.4,699.1 609.6,698.1 609.8,697.1 610,696.2 610.1,695.2 610.3,694.2 610.5,693.2 610.7,692.2 610.9,691.3 611.1,690.3 611.3,689.3 611.5,688.3 611.7,687.3 611.9,686.4 612.1,685.4 612.4,684.4 612.6,683.4 612.8,682.5 613,681.5 613.2,680.5 613.4,679.5 613.7,678.5 613.9,677.6 614.1,676.6 614.3,675.6 614.5,674.6 614.8,673.7 615,672.7 615.2,671.7 615.4,670.7 615.6,669.8 615.9,668.8 616.1,667.8 616.3,666.8 616.5,665.9 616.8,664.9 617,663.9 617.2,663 617.5,662 617.7,661 618,660 618.2,659.1 618.4,658.1 618.7,657.1 618.9,656.2 619.2,655.2 619.4,654.2 619.6,653.2 619.9,652.3 620.1,651.3 620.3,650.3 620.6,649.4 620.8,648.4 621,647.4 621.2,646.4 621.5,645.5 621.7,644.5 621.9,643.5 622.1,642.5 622.4,641.6 622.6,640.6 622.9,639.6 623.1,638.7 623.4,637.7 623.6,636.7 623.9,635.8 624.2,634.8 624.4,633.8 624.7,632.9 625,631.9 625.3,631 625.6,630 625.9,629 626.2,628.1 626.5,627.1 626.8,626.2 627.1,625.2 627.4,624.3 627.8,623.4 628.1,622.4 628.5,621.5 628.9,620.6 629.3,619.7 629.7,618.7 630.1,617.8 630.5,616.9 630.9,616 631.4,615.1 631.8,614.2 632.3,613.4 632.8,612.5 633.3,611.6 633.8,610.8 634.3,609.9 634.8,609.1 635.4,608.2 636,607.4 636.5,606.6 637.1,605.8 637.7,605 638.4,604.2 639,603.5 639.7,602.7 640.3,602 641,601.2 641.7,600.5 642.4,599.9 643.2,599.2 643.9,598.6 644.7,597.9 645.5,597.4 646.3,596.8 647.2,596.3 648,595.8 648.9,595.4 649.8,595 650.7,594.6 651.7,594.3 652.6,594 653.6,593.7 654.5,593.5 655.5,593.3 656.5,593.1 657.5,592.9 658.5,592.7 658.9,592.6" fill="none" stroke="#000" stroke-width="3.0" stroke-linejoin="round" stroke-linecap="butt"/>
<polyline points="105.5,552 106.5,552.1 107.5,552.2 108.5,552.3 109.4,552.4 110.4,552.5 111.4,552.6 112.4,552.7 113.4,552.9 114.3,553 115.3,553.1 116.3,553.2 117.3,553.3 118.3,553.4 119.3,553.6 120.2,553.7 121.2,553.8 122.2,553.9 123.2,554.1 124.2,554.2 125.2,554.3 126.1,554.5 127.1,554.6 128.1,554.7 129.1,554.9 130.1,555 131.1,555.1 132,555.3 133,555.4 134,555.6 135,555.7 136,555.8 137,556 137.9,556.1 138.9,556.3 139.9,556.4 140.9,556.6 141.9,556.7 142.9,556.9 143.8,557.1 144.8,557.2 145.8,557.4 146.8,557.5 147.8,557.7 148.8,557.8 149.8,558 150.7,558.2 151.7,558.3 152.7,558.5 153.7,558.7 154.7,558.8 155.7,559 156.6,559.2 157.6,559.3 158.6,559.5 159.6,559.7 160.6,559.9 161.6,560 162.6,560.2 163.5,560.4 164.5,560.6 165.5,560.7 166.5,560.9 167.5,561.1 168.5,561.3 169.5,561.5 170.4,561.6 171.4,561.8 172.4,562 173.4,562.2 174.4,562.4 175.4,562.6 176.4,562.7 177.3,562.9 178.3,563.1 179.3,563.3 180.3,563.5 181.3,563.7 182.3,563.9 183.3,564.1 184.2,564.3 185.2,564.5 186.2,564.7 187.2,564.8 188.2,565 189.2,565.2 190.2,565.4 191.1,565.6 192.1,565.8 193.1,566 194.1,566.2 195.1,566.4 196.1,566.6 197.1,566.8 198,567 199,567.2 200,567.4 201,567.6 202,567.8 203,568 204,568.2 204.9,568.4 205.9,568.6 206.9,568.8 207.9,569 208.9,569.2 209.9,569.4 210.9,569.6 211.8,569.8 212.8,570 213.8,570.2 214.8,570.4 215.8,570.6 216.8,570.8 217.8,571.1 218.8,571.3 219.7,571.5 220.7,571.7 221.7,571.9 222.7,572.1 223.7,572.3 224.7,572.5 225.7,572.7 226.6,572.9 227.6,573.1 228.6,573.3 229.6,573.5 230.6,573.7 231.6,573.9 232.6,574.1 233.5,574.3 234.5,574.5 235.5,574.7 236.5,574.9 237.5,575.1 238.5,575.4 239.5,575.6 240.5,575.8 241.4,576 242.4,576.2 243.4,576.4 244.4,576.6 245.4,576.8 246.4,577 247.4,577.2 248.3,577.4 249.3,577.6 250.3,577.8 251.3,578 252.3,578.2 253.3,578.4 254.3,578.6 255.2,578.8 256.2,579 257.2,579.2 258.2,579.4 259.2,579.6 260.2,579.8 261.2,580 262.1,580.2 263.1,580.4 264.1,580.6 265.1,580.8 266.1,580.9 267.1,581.1 268.1,581.3 269,581.5 270,581.7 271,581.9 272,582.1 273,582.3 274,582.5 275,582.7 275.9,582.9 276.9,583 277.9,583.2 278.9,583.4 279.9,583.6 280.9,583.8 281.9,584 282.8,584.2 283.8,584.3 284.8,584.5 285.8,584.7 286.8,584.9 287.8,585.1 288.7,585.2 289.7,585.4 290.7,585.6 291.7,585.8 292.7,586 293.7,586.1 294.6,586.3 295.6,586.5 296.6,586.7 297.6,586.8 298.6,587 299.6,587.2 300.6,587.4 301.5,587.5 302.5,587.7 303.5,587.9 304.5,588.1 305.5,588.2 306.5,588.4 307.4,588.6 308.4,588.8 309.4,588.9 310.4,589.1 311.4,589.3 312.4,589.5 313.3,589.6 314.3,589.8 315.3,590 316.3,590.1 317.3,590.3 318.3,590.5 319.2,590.7 320.2,590.8 321.2,591 322.2,591.2 323.2,591.3 324.1,591.5 325.1,591.7 326.1,591.8 327.1,592 328.1,592.2 329.1,592.4 330,592.5 331,592.7 332,592.9 333,593 334,593.2 334.9,593.4 335.9,593.5 336.9,593.7 337.9,593.9 338.9,594.1 339.9,594.2 340.8,594.4 341.8,594.6 342.8,594.7 343.8,594.9 344.8,595.1 345.7,595.2 346.7,595.4 347.7,595.6 348.7,595.8 349.7,595.9 350.6,596.1 351.6,596.3 352.6,596.5 353.6,596.6 354.6,596.8 355.5,597 356.5,597.1 357.5,597.3 358.5,597.5 359.4,597.7 360.4,597.8 361.4,598 362.4,598.2 363.4,598.4 364.3,598.5 365.3,598.7 366.3,598.9 367.3,599.1 368.3,599.3 369.2,599.4 370.2,599.6 371.2,599.8 372.2,600 373.1,600.2 374.1,600.3 375.1,600.5 376.1,600.7 377.1,600.9 378,601.1 379,601.3 380,601.4 381,601.6 381.9,601.8 382.9,602 383.9,602.2 384.9,602.4 385.8,602.6 386.8,602.7 387.8,602.9 388.8,603.1 389.7,603.3 390.7,603.5 391.7,603.7 392.7,603.9 393.6,604.1 394.6,604.3 395.6,604.5 396.6,604.7 397.5,604.9 398.5,605.1 399.5,605.3 400.5,605.5 401.4,605.7 402.4,605.9 403.4,606.1 404.4,606.3 405.3,606.5 406.3,606.7 407.3,606.9 408.2,607.1 409.2,607.3 410.2,607.5 411.2,607.7 412.1,607.9 413.1,608.1 414.1,608.4 415.1,608.6 416,608.8 417,609 418,609.2 418.9,609.4 419.9,609.7 420.9,609.9 421.9,610.1 422.8,610.3 423.8,610.5 424.8,610.8 425.7,611 426.7,611.2 427.7,611.4 428.6,611.7 429.6,611.9 430.6,612.1 431.5,612.4 432.5,612.6 433.5,612.8 434.5,613.1 435.4,613.3 436.4,613.5 437.4,613.8 438.3,614 439.3,614.3 440.3,614.5 441.2,614.8 442.2,615 443.2,615.3 444.1,615.5 445.1,615.8 446.1,616 447,616.3 448,616.5 449,616.8 449.9,617.1 450.9,617.3 451.8,617.6 452.8,617.9 453.8,618.2 454.7,618.4 455.7,618.7 456.6,619 457.6,619.3 458.5,619.6 459.5,619.9 460.4,620.2 461.4,620.6 462.3,620.9 463.3,621.2 464.2,621.6 465.1,621.9 466.1,622.3 467,622.6 467.9,623 468.9,623.4 469.8,623.7 470.7,624.1 471.6,624.5 472.5,624.9 473.5,625.3 474.4,625.8 475.3,626.2 476.2,626.6 477.1,627.1 478,627.5 478.9,628 479.8,628.5 480.6,629 481.5,629.5 482.4,630 483.3,630.5 484.2,631 485,631.6 485.9,632.1 486.7,632.7 487.6,633.3 488.4,633.8 489.3,634.4 490.1,635 491,635.6 491.8,636.2 492.6,636.8 493.4,637.5 494.3,638.1 495.1,638.7 495.9,639.4 496.7,640 497.5,640.7 498.3,641.4 499.1,642 499.8,642.7 500.6,643.4 501.4,644.1 502.1,644.8 502.9,645.5 503.6,646.2 504.4,646.9 505.1,647.6 505.9,648.3 506.6,649 507.3,649.8 508,650.5 508.7,651.2 509.4,652 510.1,652.7 510.8,653.4 511.5,654.2 512.1,654.9 512.8,655.7 513.5,656.4 514.1,657.2 514.8,657.9 515.4,658.7 516,659.4 516.6,660.2 517.3,660.9 517.9,661.7 518.5,662.4 519.1,663.2 519.7,664 520.3,664.7 520.8,665.5 521.4,666.2 522,667 522.6,667.8 523.1,668.5 523.7,669.3 524.2,670.1 524.8,670.9 525.3,671.6 525.9,672.4 526.4,673.2 527,674 527.5,674.7 528.1,675.5 528.6,676.3 529.1,677.1 529.7,677.9 530.2,678.7 530.8,679.5 531.3,680.3 531.8,681.1 532.4,681.8 532.9,682.6 533.4,683.4 534,684.2 534.5,685.1 535,685.9 535.6,686.7 536.1,687.5 536.7,688.3 537.2,689.1 537.8,689.9 538.3,690.7 538.9,691.6 539.4,692.4 540,693.2 540.6,694 541.1,694.9 541.7,695.7 542.3,696.5 542.8,697.4 543.4,698.2 544,699 544.5,699.9 545.1,700.7 545.7,701.6 546.2,702.4 546.8,703.3 547.4,704.1 547.9,705 548.5,705.8 549,706.7 549.6,707.5 550.2,708.4 550.7,709.3 551.3,710.2 551.8,711 552.3,711.9 552.9,712.8 553.4,713.7 553.9,714.5 554.4,715.4 555,716.3 555.5,717.2 556,718.1 556.5,719 557,719.9 557.4,720.8 557.9,721.7 558.4,722.6 558.9,723.5 559.3,724.4 559.8,725.3 560.2,726.3 560.6,727.2 561.1,728.1 561.5,729 561.9,730 562.3,730.9 562.7,731.8 563,732.8 563.4,733.7 563.8,734.6 564.1,735.6 564.5,736.5 564.8,737.5 565.2,738.4 565.5,739.4 565.8,740.3 566.1,741.3 566.4,742.3 566.7,743.2 567,744.2 567.3,745.1 567.6,746.1 567.9,747.1 568.2,748 568.5,749 568.7,750 569,751 569.3,751.9 569.5,752.9 569.8,753.9 570.1,754.9 570.3,755.8 570.6,756.8 570.8,757.8 571.1,758.8 571.3,759.7 571.5,760.7 571.8,761.7 572,762.7 572.2,763.7 572.5,764.6 572.7,765.6 572.9,766.6 573.2,767.6 573.4,768.6 573.6,769.5 573.9,770.5 574.1,771.5 574.3,772.5 574.6,773.5 574.8,774.4 575.1,775.4 575.3,776.4 575.5,777.4 575.8,778.3 576,779.3 576.3,780.3 576.5,781.3 576.8,782.2 577,783.2 577.3,784.2 577.5,785.1 577.8,786.1 578.1,787.1 578.3,788 578.6,789 578.9,790 579.2,790.9 579.5,791.9 579.8,792.8 580.1,793.8 580.4,794.7 580.7,795.7 581,796.6 581.3,797.6 581.6,798.5 582,799.4 582.3,800.4 582.6,801.3 583,802.3 583.4,803.2 583.7,804.1 584.1,805 584.5,805.9 584.9,806.9 585.3,807.8 585.7,808.7 586.1,809.6 586.5,810.5 587,811.4 587.4,812.3 587.9,813.2 588.3,814.1 588.8,814.9 589.3,815.8 589.8,816.7 590.3,817.5 590.9,818.3 591.4,819.2 592,820 592.5,820.8 593.1,821.5 593.7,822.3 594.3,823.1 595,823.8 595.6,824.5 596.3,825.2 597,825.9 597.7,826.5 598.4,827.2 599.2,827.8 599.9,828.4 600.7,828.9 601.5,829.5 602.3,830 603.1,830.5 604,831 604.8,831.5 605.7,832 606.6,832.4 607.5,832.8 608.4,833.2 609.3,833.6 610.2,833.9 611.1,834.3 612.1,834.6 613,834.9 614,835.2 615,835.4 615.9,835.7 616.9,835.9 617.9,836.1 618.9,836.3 619.9,836.5 620.9,836.6 621.9,836.8 622.9,836.9 623.9,837.1 624.9,837.2 625.9,837.3 626.9,837.4 627.9,837.4 629,837.5 630,837.6 631,837.6 632,837.7 633.1,837.7 634.1,837.7 635.1,837.8 636.1,837.8 637.2,837.8 638.2,837.8 639.2,837.8 640.2,837.8 641.3,837.9 642.3,837.9 643.3,837.9 644.3,837.9 645.3,837.9 646.3,837.9 647.3,837.9 648.3,837.9 649.3,838 650.3,838 651.3,838 652.3,838 653.3,838.1 654.2,838.1 655.2,838.2 656.1,838.2 657.1,838.3 658,838.4" fill="none" stroke="#0000f0" stroke-width="3.4" stroke-linejoin="round" stroke-linecap="butt"/>
<polyline points="105.5,800.9 106.5,800.9 107.5,800.9 108.5,800.9 109.5,800.9 110.5,800.8 111.5,800.8 112.5,800.8 113.5,800.8 114.5,800.8 115.5,800.8 116.5,800.8 117.5,800.8 118.5,800.7 119.5,800.7 120.5,800.7 121.5,800.7 122.5,800.7 123.5,800.7 124.5,800.7 125.5,800.7 126.5,800.6 127.5,800.6 128.5,800.6 129.5,800.6 130.5,800.6 131.5,800.6 132.5,800.6 133.5,800.6 134.5,800.5 135.5,800.5 136.5,800.5 137.5,800.5 138.5,800.5 139.5,800.5 140.5,800.5 141.5,800.5 142.5,800.4 143.5,800.4 144.5,800.4 145.5,800.4 146.5,800.4 147.5,800.4 148.5,800.4 149.5,800.4 150.5,800.3 151.5,800.3 152.5,800.3 153.5,800.3 154.5,800.3 155.5,800.3 156.5,800.3 157.5,800.3 158.5,800.3 159.5,800.3 160.5,800.3 161.5,800.3 162.5,800.3 163.5,800.3 164.5,800.3 165.5,800.3 166.5,800.3 167.5,800.3 168.5,800.3 169.5,800.3 170.5,800.3 171.5,800.3 172.5,800.3 173.5,800.3 174.5,800.3 175.5,800.3 176.5,800.3 177.5,800.3 178.5,800.3 179.5,800.3 180.5,800.3 181.5,800.3 182.5,800.3 183.5,800.3 184.5,800.3 185.5,800.3 186.5,800.3 187.5,800.3 188.5,800.3 189.5,800.3 190.5,800.4 191.5,800.4 192.5,800.4 193.5,800.4 194.5,800.5 195.5,800.5 196.5,800.6 197.5,800.6 198.5,800.6 199.5,800.7 200.5,800.7 201.5,800.8 202.5,800.8 203.5,800.9 204.5,800.9 205.5,800.9 206.5,801 207.5,801 208.5,801.1 209.5,801.1 210.5,801.2 211.5,801.2 212.5,801.2 213.5,801.3 214.5,801.3 215.5,801.4 216.5,801.4 217.5,801.5 218.5,801.5 219.5,801.5 220.5,801.6 221.5,801.6 222.5,801.7 223.5,801.7 224.5,801.7 225.5,801.8 226.5,801.8 227.5,801.9 228.5,801.9 229.5,802 230.5,802 231.5,802 232.5,802.1 233.5,802.1 234.5,802.2 235.5,802.2 236.5,802.2 237.5,802.3 238.5,802.3 239.5,802.3 240.5,802.4 241.5,802.4 242.5,802.4 243.5,802.4 244.5,802.4 245.5,802.5 246.5,802.5 247.5,802.5 248.5,802.5 249.5,802.5 250.5,802.5 251.5,802.5 252.5,802.5 253.5,802.5 254.5,802.6 255.5,802.6 256.5,802.6 257.5,802.6 258.5,802.6 259.5,802.6 260.5,802.6 261.5,802.6 262.5,802.6 263.5,802.7 264.5,802.7 265.5,802.7 266.5,802.7 267.5,802.7 268.5,802.7 269.5,802.7 270.5,802.7 271.5,802.7 272.5,802.8 273.4,802.8 274.4,802.8 275.4,802.8 276.4,802.8 277.4,802.8 278.4,802.8 279.4,802.8 280.4,802.8 281.4,802.9 282.4,802.9 283.4,802.9 284.4,802.9 285.4,802.9 286.4,802.9 287.4,802.9 288.4,802.9 289.4,802.9 290.4,803 291.4,803 292.4,803 293.4,803 294.4,803 295.4,803 296.4,803 297.4,803 298.4,803 299.4,803 300.4,803 301.4,803 302.4,803 303.4,803 304.4,803 305.4,803 306.4,803 307.4,803 308.4,803 309.4,803 310.4,803 311.4,803 312.4,803 313.4,803 314.4,803 315.4,803 316.4,803 317.4,803 318.4,803 319.4,803 320.4,803 321.4,803 322.4,803 323.4,803 324.4,803 325.4,803 326.4,803 327.4,803 328.4,803 329.4,803 330.4,803 331.4,803 332.4,803 333.4,803 334.4,802.9 335.4,802.9 336.4,802.9 337.4,802.9 338.4,802.9 339.4,802.9 340.4,802.9 341.4,802.8 342.4,802.8 343.4,802.8 344.4,802.8 345.4,802.8 346.4,802.8 347.4,802.8 348.4,802.7 349.4,802.7 350.4,802.7 351.4,802.7 352.4,802.7 353.4,802.7 354.4,802.7 355.4,802.6 356.4,802.6 357.4,802.6 358.4,802.6 359.4,802.6 360.4,802.6 361.4,802.6 362.4,802.5 363.4,802.5 364.4,802.5 365.4,802.5 366.4,802.5 367.4,802.5 368.4,802.5 369.4,802.4 370.4,802.4 371.4,802.4 372.4,802.4 373.4,802.4 374.4,802.4 375.4,802.4 376.4,802.3 377.4,802.3 378.4,802.3 379.4,802.3 380.4,802.2 381.4,802.2 382.4,802.2 383.4,802.1 384.4,802.1 385.4,802 386.4,802 387.4,801.9 388.4,801.9 389.4,801.8 390.4,801.8 391.4,801.7 392.4,801.7 393.4,801.6 394.4,801.6 395.4,801.6 396.4,801.5 397.4,801.5 398.4,801.4 399.4,801.4 400.4,801.3 401.4,801.3 402.4,801.2 403.4,801.2 404.4,801.1 405.4,801.1 406.4,801 407.4,801 408.4,800.9 409.4,800.9 410.4,800.8 411.4,800.8 412.4,800.7 413.4,800.7 414.4,800.6 415.4,800.6 416.4,800.5 417.4,800.5 418.4,800.4 419.4,800.4 420.4,800.3 421.4,800.3 422.4,800.2 423.4,800.2 424.4,800.1 425.4,800.1 426.4,800.1 427.4,800 428.4,800 429.4,799.9 430.4,799.9 431.4,799.8 432.4,799.8 433.4,799.7 434.4,799.7 435.4,799.6 436.4,799.6 437.4,799.5 438.4,799.5 439.4,799.4 440.4,799.4 441.4,799.3 442.4,799.2 443.4,799.2 444.4,799.1 445.4,799 446.4,799 447.4,798.9 448.4,798.8 449.3,798.7 450.3,798.6 451.3,798.6 452.3,798.5 453.3,798.4 454.3,798.3 455.3,798.3 456.3,798.2 457.3,798.1 458.3,798 459.3,797.9 460.3,797.8 461.3,797.7 462.3,797.6 463.3,797.5 464.3,797.4 465.3,797.3 466.3,797.2 467.3,797.1 468.3,796.9 469.3,796.8 470.2,796.7 471.2,796.6 472.2,796.5 473.2,796.3 474.2,796.2 475.2,796.1 476.2,795.9 477.2,795.8 478.2,795.6 479.2,795.4 480.1,795.3 481.1,795.1 482.1,794.9 483.1,794.7 484.1,794.5 485.1,794.4 486,794.2 487,794 488,793.8 489,793.6 490,793.4 490.9,793.2 491.9,792.9 492.9,792.7 493.8,792.4 494.8,792.1 495.7,791.9 496.7,791.6 497.7,791.3 498.6,791 499.6,790.7 500.5,790.4 501.5,790.1 502.5,789.8 503.4,789.5 504.4,789.2 505.3,788.9 506.2,788.5 507.1,788.2 508.1,787.8 509,787.4 509.9,786.9 510.8,786.5 511.7,786 512.6,785.6 513.4,785.2 514.3,784.7 515.2,784.3 516.1,783.8 517,783.4 517.9,782.9 518.8,782.4 519.7,782 520.6,781.5 521.4,781 522.3,780.5 523.2,780 524,779.5 524.9,779 525.7,778.4 526.5,777.9 527.4,777.3 528.2,776.8 529.1,776.2 529.9,775.7 530.7,775.2 531.6,774.6 532.4,774.1 533.3,773.5 534.1,773 534.9,772.4 535.8,771.9 536.6,771.4 537.5,770.9 538.3,770.3 539.2,769.8 540.1,769.3 540.9,768.8 541.8,768.3 542.7,767.8 543.5,767.3 544.4,766.9 545.3,766.4 546.2,765.9 547.1,765.5 548,765.1 548.9,764.7 549.8,764.4 550.8,764 551.7,763.7 552.7,763.5 553.6,763.2 554.6,763 555.5,762.9 556.5,762.7 557.5,762.7 558.4,762.7 559.4,762.8 560.4,762.9 561.3,763.2 562.3,763.4 563.2,763.7 564.1,764.1 564.9,764.6 565.7,765.1 566.5,765.6 567.2,766.3 567.9,767 568.6,767.7 569.2,768.5 569.7,769.3 570.3,770.1 570.7,771 571.2,771.8 571.7,772.7 572.1,773.6 572.5,774.5 572.9,775.5 573.3,776.4 573.6,777.3 574,778.2 574.3,779.2 574.7,780.1 575,781.1 575.3,782 575.5,782.5" fill="none" stroke="#ff0000" stroke-width="3.5" stroke-linejoin="round" stroke-linecap="butt"/>
<line x1="576.4" y1="864" x2="624" y2="623" stroke="#eba010" stroke-width="2.2" stroke-linecap="butt"/>
<rect x="102.4" y="526.5" width="559.6" height="321.5" fill="none" stroke="#000" stroke-width="6.5"/>
<rect x="146.9" y="839.8" width="5.2" height="6" fill="#000"/>
<rect x="193.4" y="839.8" width="5.2" height="6" fill="#000"/>
<rect x="239.9" y="839.8" width="5.2" height="6" fill="#000"/>
<rect x="286.4" y="839.8" width="5.2" height="6" fill="#000"/>
<rect x="332.9" y="839.8" width="5.2" height="6" fill="#000"/>
<rect x="379.4" y="839.8" width="5.2" height="6" fill="#000"/>
<rect x="425.9" y="839.8" width="5.2" height="6" fill="#000"/>
<rect x="472.4" y="839.8" width="5.2" height="6" fill="#000"/>
<rect x="518.9" y="839.8" width="5.2" height="6" fill="#000"/>
<rect x="565.4" y="839.8" width="5.2" height="6" fill="#000"/>
<rect x="611.9" y="839.8" width="5.2" height="6" fill="#000"/>
<rect x="104.7" y="838" width="5" height="6" fill="#000"/>
<rect x="104.7" y="796.1" width="5" height="6" fill="#000"/>
<rect x="104.7" y="754.2" width="5" height="6" fill="#000"/>
<rect x="104.7" y="712.3" width="5" height="6" fill="#000"/>
<rect x="104.7" y="670.4" width="5" height="6" fill="#000"/>
<rect x="104.7" y="628.5" width="5" height="6" fill="#000"/>
<rect x="104.7" y="586.6" width="5" height="6" fill="#000"/>
<rect x="104.7" y="544.7" width="5" height="6" fill="#000"/>
<rect x="654.8" y="836" width="5" height="6" fill="#000"/>
<rect x="654.8" y="731.5" width="5" height="6" fill="#000"/>
<rect x="654.8" y="627" width="5" height="6" fill="#000"/>
<text transform="translate(63.22,555.05) scale(0.9328,1)" font-family='"Liberation Serif", serif' font-size="24.78" font-weight="normal">14</text>
<text transform="translate(76.47,849.43) scale(0.9328,1)" font-family='"Liberation Serif", serif' font-size="24.78" font-weight="normal">0</text>
<text transform="translate(76.50,806.95) scale(0.9328,1)" font-family='"Liberation Serif", serif' font-size="24.78" font-weight="normal">2</text>
<text transform="translate(75.58,764.93) scale(0.9328,1)" font-family='"Liberation Serif", serif' font-size="24.78" font-weight="normal">4</text>
<text transform="translate(76.04,723.03) scale(0.9328,1)" font-family='"Liberation Serif", serif' font-size="24.78" font-weight="normal">6</text>
<text transform="translate(76.27,681.13) scale(0.9328,1)" font-family='"Liberation Serif", serif' font-size="24.78" font-weight="normal">8</text>
<text transform="translate(64.71,639.23) scale(0.9328,1)" font-family='"Liberation Serif", serif' font-size="24.78" font-weight="normal">10</text>
<text transform="translate(64.94,597.45) scale(0.9328,1)" font-family='"Liberation Serif", serif' font-size="24.78" font-weight="normal">12</text>
<text transform="translate(669.11,532.65) scale(1.0955,1)" font-family='"Liberation Serif", serif' font-size="22.50" font-weight="normal">600</text>
<text transform="translate(669.01,637.20) scale(1.0955,1)" font-family='"Liberation Serif", serif' font-size="22.50" font-weight="normal">400</text>
<text transform="translate(668.51,742.20) scale(1.0955,1)" font-family='"Liberation Serif", serif' font-size="22.50" font-weight="normal">200</text>
<text transform="translate(668.51,843.40) scale(1.0955,1)" font-family='"Liberation Serif", serif' font-size="22.50" font-weight="normal">0</text>
<text transform="translate(44.73,770.15) rotate(-90) scale(1.0473,1)" font-family='"Liberation Serif", serif' font-size="30.33" font-weight="normal">Moment (emu/g)</text>
<text transform="translate(740.14,768.84) rotate(-90) scale(0.9790,1)" font-family='"Liberation Serif", serif' font-size="32.67" font-weight="normal"><tspan font-style="italic">&#967;</tspan><tspan font-size="0.6em" dy="-0.42em">-1</tspan><tspan dy="0.25em"> (g*Oe/emu)</tspan></text>
<line x1="418" y1="549.3" x2="455.4" y2="549.3" stroke="#ff0000" stroke-width="4" stroke-linecap="butt"/>
<line x1="418" y1="570" x2="455.4" y2="570" stroke="#0000ff" stroke-width="4" stroke-linecap="butt"/>
<line x1="418" y1="590.6" x2="455.4" y2="590.6" stroke="#000" stroke-width="4" stroke-linecap="butt"/>
<text transform="translate(464.96,556.16) scale(0.8716,1)" font-family='"Liberation Serif", serif' font-size="16.91" font-weight="normal">ZFC</text>
<text transform="translate(465.27,575.96) scale(0.8330,1)" font-family='"Liberation Serif", serif' font-size="17.06" font-weight="normal">FC</text>
<text transform="translate(467.36,596.44) scale(1.0036,1)" font-family='"Liberation Serif", serif' font-size="16.96" font-weight="normal"><tspan font-style="italic">&#967;</tspan><tspan font-size="0.62em" dy="-0.5em">&#8722;1</tspan></text>
<text transform="translate(580.74,564.83) scale(1.0597,1)" font-family='"Liberation Serif", serif' font-size="23.68" font-weight="normal">100 Oe</text>
<text transform="translate(602.37,815.89) scale(1.0300,1)" font-family='"Liberation Serif", serif' font-size="39.56" font-weight="normal">(b)</text>
<rect x="171" y="612.8" width="234.5" height="165.8" fill="#fff"/>
<polyline points="173,641.8 173.8,641.9 174.5,641.9 175.3,642 176.1,642 176.9,642.1 177.6,642.2 178.4,642.2 179.2,642.3 180,642.3 180.7,642.4 181.5,642.4 182.3,642.5 183.1,642.5 183.8,642.6 184.6,642.6 185.4,642.7 186.2,642.7 186.9,642.8 187.7,642.8 188.5,642.9 189.3,642.9 190,643 190.8,643 191.6,643.1 192.4,643.1 193.1,643.2 193.9,643.2 194.7,643.3 195.5,643.3 196.2,643.3 197,643.4 197.8,643.4 198.6,643.4 199.3,643.5 200.1,643.5 200.9,643.5 201.7,643.6 202.4,643.6 203.2,643.6 204,643.7 204.8,643.7 205.5,643.7 206.3,643.8 207.1,643.8 207.9,643.8 208.6,643.9 209.4,643.9 210.2,643.9 211,644 211.7,644 212.5,644 213.3,644.1 214.1,644.1 214.8,644.1 215.6,644.2 216.4,644.2 217.2,644.2 217.9,644.2 218.7,644.3 219.5,644.3 220.3,644.3 221,644.3 221.8,644.4 222.6,644.4 223.4,644.4 224.1,644.4 224.9,644.5 225.7,644.5 226.5,644.5 227.2,644.5 228,644.5 228.8,644.5 229.6,644.5 230.3,644.6 231.1,644.6 231.9,644.6 232.7,644.6 233.4,644.6 234.2,644.6 235,644.6 235.8,644.6 236.5,644.6 237.3,644.6 238.1,644.6 238.9,644.6 239.6,644.6 240.4,644.5 241.2,644.5 242,644.5 242.7,644.5 243.5,644.4 244.3,644.4 245.1,644.4 245.8,644.4 246.6,644.3 247.4,644.3 248.2,644.2 248.9,644.2 249.7,644.2 250.5,644.1 251.3,644.1 252,644.1 252.8,644 253.6,644 254.4,644 255.1,643.9 255.9,643.9 256.7,643.9 257.5,643.9 258.2,643.8 259,643.8 259.8,643.8 260.6,643.8 261.3,643.8 262.1,643.8 262.9,643.7 263.7,643.7 264.4,643.7 265.2,643.7 266,643.7 266.8,643.7 267.5,643.7 268.3,643.6 269.1,643.6 269.9,643.6 270.6,643.6 271.4,643.6 272.2,643.6 273,643.6 273.7,643.6 274.5,643.6 275.3,643.5 276.1,643.5 276.8,643.5 277.6,643.5 278.4,643.5 279.2,643.5 279.9,643.5 280.7,643.5 281.5,643.5 282.3,643.5 283,643.5 283.8,643.5 284.6,643.5 285.4,643.5 286.1,643.5 286.9,643.5 287.7,643.5 288.5,643.6 289.2,643.6 290,643.6 290.8,643.6 291.6,643.6 292.3,643.7 293.1,643.7 293.9,643.7 294.7,643.7 295.4,643.8 296.2,643.8 297,643.8 297.8,643.9 298.5,643.9 299.3,644 300.1,644 300.9,644.1 301.6,644.2 302.4,644.3 303.2,644.5 304,644.6 304.7,644.9 305.5,645.1 306.3,645.3 307.1,645.6 307.8,645.8 308.6,646.1 309.4,646.3 310.2,646.6 310.9,646.9 311.7,647.1 312.5,647.4 313.3,647.7 314,648 314.8,648.4 315.6,648.7 316.4,649.1 317.1,649.5 317.9,649.9 318.7,650.3 319.5,650.7 320.2,651.2 321,651.7 321.8,652.2 322.6,652.7 323.3,653.3 324.1,653.9 324.9,654.6 325.7,655.3 326.4,656.2 327.2,657.1 328,658 328.8,659.1 329.5,660.1 330.3,661.2 331.1,662.4 331.9,663.5 332.6,664.7 333.4,666 334.2,667.4 335,668.9 335.7,670.5 336.5,672.1 337.3,673.8 338.1,675.5 338.8,677.1 339.6,678.7 340.4,680.3 341.2,681.9 341.9,683.6 342.7,685.2 343.5,686.8 344.3,688.4 345,689.9 345.8,691.3 346.6,692.6 347.4,693.8 348.1,694.9 348.9,695.9 349.7,696.9 350.5,697.8 351.2,698.7 352,699.5 352.8,700.2 353.6,700.9 354.3,701.6 355.1,702.7 355.9,704.1 356.7,706.1 357.4,708.4 358.2,711 359,713.8 359.8,717 360.5,720.6 361.3,724.6 362.1,729 362.9,733.6 363.6,739 364.4,745.6 365.2,752.5 366,759.1 366.7,764.7 367.5,770.2 368.3,774.6 369.1,776.7 369.8,777.8 370.6,777.9 371.4,776.8 372.2,774.3 372.9,766.5 373.7,757 374.5,745.4 375.3,732.1 376,718.4 376.8,705.8 377.6,694.3 378.4,683.2 379.1,674.3 379.9,667.5 380.7,661.4 381.5,656.3 382.2,652.4 383,649.8 383.8,647.8 384.6,646 385.3,644.4 386.1,643.1 386.9,642 387.7,641.1 388.4,640.4 389.2,640 390,639.5 390.8,639.1 391.5,638.8 392.3,638.5 393.1,638.2 393.9,637.9 394.6,637.7 395.4,637.5 396.2,637.3 397,637.1 397.7,637 398.5,636.9 399.3,636.7 400.1,636.6 400.8,636.5 401.6,636.4 402.4,636.3 403.2,636.3 403.9,636.2 404.7,636.2" fill="none" stroke="#ff0000" stroke-width="2.0" stroke-linejoin="round" stroke-linecap="butt"/>
<rect x="171" y="612.8" width="234.5" height="165.8" fill="none" stroke="#000" stroke-width="3.8"/>
<rect x="189.3" y="775" width="2.4" height="2.2" fill="#000"/>
<rect x="208.9" y="775" width="2.4" height="2.2" fill="#000"/>
<rect x="228.4" y="775" width="2.4" height="2.2" fill="#000"/>
<rect x="248" y="775" width="2.4" height="2.2" fill="#000"/>
<rect x="267.5" y="775" width="2.4" height="2.2" fill="#000"/>
<rect x="287.1" y="775" width="2.4" height="2.2" fill="#000"/>
<rect x="306.6" y="775" width="2.4" height="2.2" fill="#000"/>
<rect x="326.1" y="775" width="2.4" height="2.2" fill="#000"/>
<rect x="345.7" y="775" width="2.4" height="2.2" fill="#000"/>
<rect x="365.2" y="775" width="2.4" height="2.2" fill="#000"/>
<rect x="384.8" y="775" width="2.4" height="2.2" fill="#000"/>
<rect x="172.5" y="635.7" width="1.8" height="2" fill="#000"/>
<rect x="172.5" y="659.6" width="1.8" height="2" fill="#000"/>
<rect x="172.5" y="683.5" width="1.8" height="2" fill="#000"/>
<rect x="172.5" y="707.4" width="1.8" height="2" fill="#000"/>
<rect x="172.5" y="731.3" width="1.8" height="2" fill="#000"/>
<rect x="172.5" y="755.2" width="1.8" height="2" fill="#000"/>
<text transform="translate(151.54,640.91) scale(1.2196,1)" font-family='"Liberation Serif", serif' font-size="9.41" font-weight="bold" fill="#222a38">0. 0</text>
<text transform="translate(147.77,688.41) scale(1.2196,1)" font-family='"Liberation Serif", serif' font-size="9.41" font-weight="bold" fill="#222a38">-0. 1</text>
<text transform="translate(147.65,736.21) scale(1.2196,1)" font-family='"Liberation Serif", serif' font-size="9.41" font-weight="bold" fill="#222a38">-0. 2</text>
<text transform="translate(147.54,780.41) scale(1.2196,1)" font-family='"Liberation Serif", serif' font-size="9.41" font-weight="bold" fill="#222a38">-0. 3</text>
<text transform="translate(241.22,789.71) scale(1.1556,1)" font-family='"Liberation Serif", serif' font-size="9.41" font-weight="normal">100</text>
<text transform="translate(168.88,789.71) scale(1.1556,1)" font-family='"Liberation Serif", serif' font-size="9.41" font-weight="normal">0</text>
<text transform="translate(204.54,789.71) scale(1.1556,1)" font-family='"Liberation Serif", serif' font-size="9.41" font-weight="normal">50</text>
<text transform="translate(279.82,789.71) scale(1.1556,1)" font-family='"Liberation Serif", serif' font-size="9.41" font-weight="normal">150</text>
<text transform="translate(319.18,789.71) scale(1.1556,1)" font-family='"Liberation Serif", serif' font-size="9.41" font-weight="normal">200</text>
<text transform="translate(358.26,789.71) scale(1.1556,1)" font-family='"Liberation Serif", serif' font-size="9.41" font-weight="normal">250</text>
<text transform="translate(397.29,789.71) scale(1.1556,1)" font-family='"Liberation Serif", serif' font-size="9.41" font-weight="normal">300</text>
<text transform="translate(255.44,798.40) scale(0.9818,1)" font-family='"Liberation Mono", monospace' font-size="9.04" font-weight="normal">Temperature(K)</text>
<text transform="translate(135.75,708.69) rotate(-90) scale(0.9846,1)" font-family='"Liberation Serif", serif' font-size="12.39" font-weight="bold">dM/dT</text>
<text transform="translate(358.48,699.27) scale(0.9380,1)" font-family='"Liberation Serif", serif' font-size="13.03" font-weight="bold">Tc</text>
<line x1="369.9" y1="709" x2="369.9" y2="742" stroke="#000" stroke-width="1.3" stroke-linecap="butt"/>
<path d="M366.8,739.5 L369.9,748.5 L373,739.5 Z" fill="#000"/>
<polyline points="107.5,1186 108.5,1186 109.5,1186 110.5,1186 111.5,1186 112.5,1186 113.5,1186 114.5,1186 115.5,1186 116.5,1186 117.5,1186 118.5,1186 119.5,1186 120.5,1186 121.5,1186 122.5,1186 123.5,1186 124.5,1186 125.5,1186 126.5,1186 127.5,1186 128.5,1186 129.5,1186 130.5,1186 131.5,1186 132.5,1186 133.5,1186 134.5,1186 135.5,1185.9 136.5,1185.9 137.5,1185.9 138.5,1185.9 139.5,1185.9 140.5,1185.9 141.5,1185.9 142.5,1185.9 143.5,1185.9 144.5,1185.9 145.5,1185.9 146.5,1185.9 147.5,1185.9 148.5,1185.9 149.5,1185.9 150.5,1185.9 151.5,1185.9 152.5,1185.9 153.5,1185.9 154.5,1185.9 155.5,1185.9 156.5,1185.9 157.5,1185.9 158.5,1185.9 159.5,1185.9 160.5,1185.9 161.5,1185.9 162.5,1185.9 163.5,1185.9 164.5,1185.9 165.5,1185.9 166.5,1185.9 167.5,1185.9 168.5,1185.9 169.5,1185.9 170.5,1185.9 171.5,1185.9 172.5,1185.9 173.5,1185.9 174.5,1185.9 175.5,1185.9 176.5,1185.9 177.5,1185.9 178.5,1185.9 179.5,1185.9 180.5,1185.9 181.5,1185.9 182.5,1185.9 183.5,1185.9 184.5,1185.9 185.5,1185.9 186.5,1185.9 187.5,1185.9 188.5,1185.9 189.5,1185.9 190.5,1185.9 191.5,1185.8 192.5,1185.8 193.5,1185.8 194.5,1185.8 195.5,1185.8 196.5,1185.8 197.5,1185.8 198.5,1185.8 199.5,1185.8 200.5,1185.8 201.5,1185.8 202.5,1185.8 203.5,1185.8 204.5,1185.8 205.5,1185.8 206.5,1185.8 207.5,1185.8 208.5,1185.8 209.5,1185.8 210.5,1185.8 211.5,1185.8 212.5,1185.8 213.5,1185.8 214.5,1185.8 215.5,1185.8 216.5,1185.8 217.5,1185.8 218.5,1185.8 219.5,1185.8 220.5,1185.8 221.5,1185.8 222.5,1185.8 223.5,1185.8 224.5,1185.8 225.5,1185.8 226.5,1185.8 227.5,1185.8 228.5,1185.8 229.5,1185.8 230.5,1185.8 231.5,1185.8 232.5,1185.8 233.5,1185.8 234.5,1185.8 235.5,1185.8 236.5,1185.8 237.5,1185.8 238.5,1185.8 239.5,1185.8 240.5,1185.8 241.5,1185.8 242.5,1185.8 243.5,1185.8 244.5,1185.8 245.5,1185.8 246.5,1185.8 247.5,1185.7 248.5,1185.7 249.5,1185.7 250.5,1185.7 251.5,1185.7 252.5,1185.7 253.5,1185.7 254.5,1185.7 255.5,1185.7 256.5,1185.7 257.5,1185.7 258.5,1185.7 259.5,1185.7 260.5,1185.7 261.5,1185.7 262.5,1185.7 263.5,1185.7 264.5,1185.7 265.5,1185.7 266.5,1185.7 267.5,1185.7 268.5,1185.7 269.5,1185.7 270.5,1185.7 271.5,1185.7 272.5,1185.7 273.5,1185.7 274.5,1185.7 275.5,1185.7 276.5,1185.7 277.5,1185.7 278.5,1185.7 279.5,1185.7 280.5,1185.7 281.5,1185.7 282.5,1185.7 283.5,1185.7 284.5,1185.7 285.5,1185.7 286.5,1185.7 287.5,1185.7 288.5,1185.7 289.5,1185.7 290.5,1185.7 291.5,1185.7 292.5,1185.7 293.5,1185.7 294.5,1185.7 295.5,1185.7 296.5,1185.7 297.5,1185.7 298.5,1185.7 299.5,1185.7 300.5,1185.7 301.5,1185.7 302.5,1185.6 303.5,1185.6 304.5,1185.6 305.5,1185.6 306.5,1185.6 307.5,1185.6 308.5,1185.6 309.5,1185.6 310.5,1185.6 311.5,1185.6 312.5,1185.6 313.5,1185.6 314.5,1185.6 315.5,1185.6 316.5,1185.6 317.5,1185.6 318.5,1185.6 319.5,1185.6 320.5,1185.6 321.5,1185.6 322.5,1185.6 323.5,1185.6 324.5,1185.6 325.5,1185.6 326.5,1185.6 327.5,1185.6 328.5,1185.6 329.5,1185.6 330.5,1185.6 331.5,1185.6 332.5,1185.6 333.5,1185.6 334.5,1185.6 335.5,1185.6 336.5,1185.6 337.5,1185.6 338.5,1185.6 339.5,1185.5 340.5,1185.5 341.5,1185.5 342.5,1185.5 343.5,1185.5 344.5,1185.5 345.5,1185.5 346.5,1185.5 347.5,1185.5 348.5,1185.5 349.5,1185.5 350.5,1185.5 351.5,1185.5 352.5,1185.5 353.5,1185.5 354.5,1185.5 355.5,1185.5 356.5,1185.5 357.5,1185.5 358.5,1185.4 359.5,1185.4 360.5,1185.4 361.5,1185.4 362.5,1185.4 363.5,1185.4 364.5,1185.4 365.5,1185.4 366.5,1185.4 367.5,1185.4 368.5,1185.4 369.5,1185.4 370.5,1185.4 371.5,1185.4 372.5,1185.4 373.5,1185.4 374.5,1185.4 375.5,1185.4 376.5,1185.3 377.5,1185.3 378.5,1185.3 379.5,1185.3 380.5,1185.3 381.5,1185.3 382.5,1185.3 383.5,1185.3 384.5,1185.3 385.5,1185.3 386.5,1185.3 387.5,1185.3 388.5,1185.3 389.5,1185.3 390.5,1185.3 391.5,1185.3 392.5,1185.3 393.5,1185.3 394.5,1185.2 395.5,1185.2 396.5,1185.2 397.5,1185.2 398.5,1185.2 399.5,1185.2 400.5,1185.2 401.5,1185.2 402.5,1185.2 403.5,1185.2 404.5,1185.2 405.5,1185.2 406.5,1185.2 407.5,1185.2 408.5,1185.2 409.5,1185.2 410.5,1185.2 411.5,1185.2 412.5,1185.2 413.5,1185.1 414.5,1185.1 415.5,1185.1 416.5,1185.1 417.5,1185.1 418.5,1185.1 419.5,1185.1 420.5,1185.1 421.5,1185.1 422.5,1185.1 423.5,1185.1 424.5,1185.1 425.5,1185.1 426.5,1185.1 427.5,1185.1 428.5,1185.1 429.5,1185.1 430.5,1185.1 431.5,1185 432.5,1185 433.5,1185 434.5,1185 435.5,1185 436.5,1185 437.5,1185 438.5,1185 439.5,1185 440.5,1185 441.5,1185 442.5,1185 443.5,1184.9 444.5,1184.9 445.5,1184.9 446.5,1184.9 447.5,1184.9 448.5,1184.9 449.5,1184.9 450.5,1184.9 451.5,1184.8 452.5,1184.8 453.5,1184.8 454.5,1184.8 455.5,1184.8 456.5,1184.8 457.5,1184.8 458.5,1184.7 459.5,1184.7 460.5,1184.7 461.5,1184.7 462.5,1184.7 463.5,1184.7 464.5,1184.7 465.5,1184.6 466.5,1184.6 467.5,1184.6 468.5,1184.6 469.5,1184.6 470.5,1184.6 471.5,1184.6 472.5,1184.5 473.5,1184.5 474.5,1184.5 475.5,1184.5 476.5,1184.5 477.5,1184.5 478.5,1184.5 479.5,1184.4 480.5,1184.4 481.5,1184.4 482.5,1184.4 483.5,1184.4 484.5,1184.4 485.5,1184.4 486.5,1184.3 487.5,1184.3 488.5,1184.3 489.5,1184.3 490.5,1184.3 491.5,1184.3 492.5,1184.3 493.5,1184.3 494.5,1184.2 495.5,1184.2 496.5,1184.2 497.5,1184.2 498.5,1184.2 499.5,1184.2 500.5,1184.2 501.5,1184.1 502.5,1184.1 503.5,1184.1 504.5,1184.1 505.5,1184.1 506.5,1184.1 507.5,1184.1 508.5,1184 509.5,1184 510.5,1184 511.5,1184 512.5,1184 513.5,1184 514.5,1184 515.5,1183.9 516.5,1183.9 517.5,1183.9 518.5,1183.9 519.5,1183.9 520.5,1183.9 521.5,1183.9 522.5,1183.8 523.5,1183.8 524.5,1183.8 525.5,1183.8 526.5,1183.8 527.5,1183.8 528.5,1183.8 529.5,1183.7 530.5,1183.7 531.5,1183.7 532.5,1183.7 533.5,1183.7 534.5,1183.7 535.5,1183.7 536.5,1183.6 537.5,1183.6 538.5,1183.6 539.5,1183.6 540.5,1183.5 541.5,1183.5 542.5,1183.4 543.5,1183.4 544.5,1183.3 545.5,1183.2 546.5,1183.2 547.5,1183.1 548.5,1183.1 549.5,1183 550.5,1182.9 551.5,1182.8 552.5,1182.8 553.5,1182.7 554.4,1182.6 555.4,1182.5 556.4,1182.4 557.4,1182.2 558.4,1182.1 559.4,1181.9 560.4,1181.8 561.4,1181.6 562.4,1181.4 563.3,1181.3 564.3,1181.1 565.3,1180.8 566.3,1180.6 567.2,1180.4 568.2,1180.1 569.1,1179.8 570.1,1179.5 571,1179.2 572,1178.9 572.9,1178.5 573.8,1178.1 574.7,1177.7 575.6,1177.3 576.5,1176.8 577.3,1176.3 578.1,1175.7 578.9,1175.1 579.7,1174.5 580.5,1173.9 581.2,1173.2 581.9,1172.5 582.6,1171.8 583.2,1171 583.8,1170.2 584.4,1169.5 585,1168.6 585.5,1167.8 586,1166.9 586.4,1166.1 586.9,1165.2 587.3,1164.3 587.6,1163.3 588,1162.4 588.3,1161.5 588.7,1160.5 589,1159.6 589.4,1158.6 589.7,1157.7 590,1156.8 590.3,1155.8 590.6,1154.8 590.9,1153.9 591.1,1152.9 591.4,1152 591.7,1151 592,1150 592.2,1149.1 592.5,1148.1 592.7,1147.1 593,1146.2 593.3,1145.2 593.5,1144.3 593.8,1143.3 594.1,1142.3 594.3,1141.4 594.6,1140.4 594.9,1139.4 595.1,1138.5 595.4,1137.5 595.7,1136.5 595.9,1135.6 596.2,1134.6 596.5,1133.7 596.7,1132.7 597,1131.7 597.3,1130.8 597.5,1129.8 597.8,1128.8 598,1127.9 598.2,1126.9 598.4,1125.9 598.6,1124.9 598.8,1123.9 599.1,1123 599.2,1122 599.4,1121 599.6,1120 599.8,1119 600,1118.1 600.2,1117.1 600.4,1116.1 600.6,1115.1 600.8,1114.1 601,1113.2 601.1,1112.2 601.3,1111.2 601.5,1110.2 601.6,1109.2 601.8,1108.2 601.9,1107.2 602.1,1106.2 602.2,1105.3 602.4,1104.3 602.5,1103.3 602.7,1102.3 602.8,1101.3 603,1100.3 603.1,1099.3 603.2,1098.3 603.4,1097.3 603.5,1096.4 603.7,1095.4 603.8,1094.4 604,1093.4 604.1,1092.4 604.3,1091.4 604.4,1090.4 604.6,1089.4 604.7,1088.4 604.9,1087.4 605,1086.5 605.2,1085.5 605.3,1084.5 605.4,1083.5 605.6,1082.5 605.7,1081.5 605.8,1080.5 605.9,1079.5 606,1078.5 606.1,1077.5 606.3,1076.5 606.4,1075.5 606.5,1074.6 606.6,1073.6 606.7,1072.6 606.8,1071.6 606.9,1070.6 607,1069.6 607.1,1068.6 607.2,1067.6 607.3,1066.6 607.4,1065.6 607.5,1064.6 607.6,1063.6 607.7,1062.6 607.8,1061.6 607.9,1060.6 608,1059.6 608.1,1058.6 608.1,1057.6 608.2,1056.6 608.3,1055.6 608.4,1054.6 608.5,1053.7 608.6,1052.7 608.8,1051.7 608.9,1050.7 609,1049.7 609.1,1048.7 609.2,1047.7 609.3,1046.7 609.5,1045.7 609.6,1044.7 609.7,1043.7 609.9,1042.7 610,1041.7 610.1,1040.8 610.2,1039.8 610.4,1038.8 610.5,1037.8 610.6,1036.8 610.8,1035.8 610.9,1034.8 611.1,1033.8 611.2,1032.8 611.3,1031.8 611.5,1030.8 611.6,1029.9 611.8,1028.9 611.9,1027.9 612.1,1026.9 612.2,1025.9 612.4,1024.9 612.6,1023.9 612.7,1022.9 612.9,1022 613.1,1021 613.2,1020 613.4,1019 613.6,1018 613.8,1017 613.9,1016 614.1,1015.1 614.3,1014.1 614.4,1013.1 614.6,1012.1 614.8,1011.1 614.9,1010.1 615.1,1009.1 615.2,1008.2 615.4,1007.2 615.5,1006.2 615.7,1005.2 615.8,1004.2 616,1003.2 616.1,1002.2 616.3,1001.2 616.4,1000.2 616.6,999.3 616.7,998.3 616.9,997.3 617,996.3 617.2,995.3 617.3,994.3 617.5,993.3 617.6,992.3 617.7,991.3 617.9,990.4 618,989.4 618.2,988.4 618.3,987.4 618.5,986.4 618.6,985.4 618.8,984.4 618.9,983.4 619.1,982.4 619.2,981.4 619.4,980.5 619.5,979.5 619.7,978.5 619.8,977.5 620,976.5 620.2,975.5 620.3,974.5 620.5,973.6 620.6,972.6 620.8,971.6 621,970.6 621.1,969.6 621.3,968.6 621.5,967.6 621.7,966.7 621.9,965.7 622,964.7 622.2,963.7 622.4,962.7 622.7,961.8 622.9,960.8 623.1,959.8 623.3,958.8 623.5,957.8 623.7,956.9 623.9,955.9 624.1,954.9 624.3,953.9 624.6,953 624.8,952 625,951 625.2,950 625.5,949.1 625.7,948.1 626,947.1 626.2,946.2 626.4,945.2 626.7,944.2 626.9,943.2 627.2,942.3 627.4,941.3 627.7,940.3 628,939.4 628.3,938.4 628.5,937.5 628.8,936.5 629.1,935.5 629.4,934.6 629.7,933.6 630,932.7 630.3,931.7 630.6,930.8 630.9,929.8 631.2,928.9 631.6,927.9 631.9,927 632.3,926.1 632.6,925.1 633,924.2 633.4,923.3 633.8,922.4 634.1,921.4 634.5,920.5 634.9,919.6 635.3,918.7 635.7,917.8 636.1,916.8 636.5,915.9 637,915 637.4,914.1 637.8,913.2 638.3,912.4 638.8,911.5 639.2,910.6 639.7,909.7 640.2,908.9 640.7,908 641.3,907.2 641.9,906.4 642.5,905.6 643.1,904.8 643.8,904.1 644.5,903.4 645.2,902.7 645.9,902.1 646.7,901.5 647.5,901 648.4,900.4 649.2,899.9 650.1,899.5 651,899.1 651.9,898.7 652.8,898.3 653.8,898 654.7,897.7 655.7,897.5 656.7,897.2 657.6,897 658.6,896.8 659.1,896.7" fill="none" stroke="#ff0000" stroke-width="3.3" stroke-linejoin="round" stroke-linecap="butt"/>
<polyline points="107.5,945.7 108.5,945.5 109.5,945.3 110.4,945 111.4,944.8 112.4,944.6 113.3,944.4 114.3,944.1 115.3,943.9 116.3,943.6 117.2,943.4 118.2,943.1 119.1,942.8 120.1,942.5 121,942.2 122,941.9 122.9,941.6 123.9,941.2 124.8,940.9 125.8,940.6 126.7,940.2 127.6,939.9 128.6,939.5 129.5,939.2 130.4,938.9 131.4,938.5 132.3,938.2 133.3,937.9 134.2,937.5 135.2,937.2 136.1,936.9 137.1,936.6 138,936.4 139,936.1 140,935.9 140.9,935.6 141.9,935.4 142.9,935.2 143.9,935 144.8,934.7 145.8,934.5 146.8,934.3 147.8,934.1 148.7,933.9 149.7,933.7 150.7,933.5 151.7,933.3 152.7,933.1 153.6,933 154.6,932.8 155.6,932.7 156.6,932.5 157.6,932.4 158.6,932.3 159.6,932.2 160.6,932.1 161.6,932.1 162.6,932 163.6,931.9 164.6,931.9 165.6,931.8 166.6,931.7 167.6,931.7 168.6,931.6 169.6,931.6 170.6,931.5 171.6,931.5 172.6,931.4 173.6,931.4 174.6,931.3 175.6,931.3 176.6,931.3 177.5,931.2 178.5,931.2 179.5,931.2 180.5,931.2 181.5,931.2 182.5,931.3 183.5,931.3 184.5,931.3 185.5,931.3 186.5,931.4 187.5,931.4 188.5,931.4 189.5,931.4 190.5,931.5 191.5,931.5 192.5,931.5 193.5,931.6 194.5,931.6 195.5,931.6 196.5,931.6 197.5,931.7 198.5,931.7 199.5,931.7 200.5,931.8 201.5,931.8 202.5,931.9 203.5,931.9 204.5,932 205.5,932 206.5,932.1 207.5,932.1 208.5,932.2 209.5,932.2 210.5,932.3 211.5,932.3 212.5,932.4 213.5,932.4 214.5,932.5 215.5,932.6 216.5,932.6 217.5,932.7 218.5,932.7 219.5,932.8 220.5,932.8 221.5,932.9 222.5,933 223.5,933 224.5,933.1 225.5,933.1 226.5,933.2 227.5,933.2 228.5,933.3 229.5,933.4 230.5,933.4 231.5,933.5 232.5,933.5 233.5,933.6 234.5,933.6 235.5,933.7 236.5,933.8 237.5,933.9 238.5,933.9 239.5,934 240.5,934.1 241.5,934.2 242.5,934.3 243.4,934.4 244.4,934.5 245.4,934.7 246.4,934.8 247.4,934.9 248.4,935 249.4,935.1 250.4,935.3 251.4,935.4 252.4,935.5 253.4,935.6 254.4,935.7 255.4,935.9 256.4,936 257.3,936.1 258.3,936.2 259.3,936.3 260.3,936.4 261.3,936.6 262.3,936.7 263.3,936.8 264.3,936.9 265.3,937 266.3,937.2 267.3,937.3 268.3,937.4 269.3,937.5 270.3,937.6 271.2,937.8 272.2,937.9 273.2,938 274.2,938.1 275.2,938.2 276.2,938.4 277.2,938.5 278.2,938.6 279.2,938.7 280.2,938.9 281.2,939 282.2,939.1 283.2,939.2 284.1,939.4 285.1,939.5 286.1,939.6 287.1,939.8 288.1,939.9 289.1,940 290.1,940.2 291.1,940.3 292.1,940.5 293.1,940.6 294,940.8 295,940.9 296,941.1 297,941.2 298,941.3 299,941.5 300,941.6 301,941.8 302,941.9 303,942.1 303.9,942.2 304.9,942.4 305.9,942.5 306.9,942.7 307.9,942.8 308.9,943 309.9,943.1 310.9,943.3 311.9,943.4 312.8,943.6 313.8,943.7 314.8,943.9 315.8,944 316.8,944.2 317.8,944.3 318.8,944.5 319.8,944.6 320.7,944.8 321.7,944.9 322.7,945.1 323.7,945.2 324.7,945.4 325.7,945.6 326.7,945.7 327.7,945.9 328.6,946 329.6,946.2 330.6,946.3 331.6,946.5 332.6,946.7 333.6,946.8 334.6,947 335.6,947.1 336.5,947.3 337.5,947.5 338.5,947.7 339.5,947.9 340.5,948.1 341.5,948.2 342.4,948.4 343.4,948.6 344.4,948.8 345.4,949 346.4,949.3 347.3,949.5 348.3,949.7 349.3,949.9 350.3,950.1 351.2,950.3 352.2,950.5 353.2,950.7 354.2,950.9 355.2,951.1 356.1,951.3 357.1,951.5 358.1,951.7 359.1,951.9 360,952.2 361,952.4 362,952.6 363,952.8 363.9,953.1 364.9,953.3 365.9,953.5 366.9,953.8 367.8,954 368.8,954.3 369.8,954.5 370.7,954.7 371.7,955 372.7,955.2 373.6,955.5 374.6,955.7 375.6,955.9 376.6,956.2 377.5,956.4 378.5,956.7 379.5,956.9 380.4,957.2 381.4,957.4 382.4,957.6 383.4,957.9 384.3,958.1 385.3,958.4 386.3,958.6 387.2,958.8 388.2,959.1 389.2,959.3 390.1,959.6 391.1,959.8 392.1,960.1 393,960.4 394,960.6 395,960.9 395.9,961.1 396.9,961.4 397.9,961.7 398.8,962 399.8,962.2 400.7,962.5 401.7,962.8 402.7,963 403.6,963.3 404.6,963.6 405.6,963.8 406.5,964.1 407.5,964.4 408.5,964.7 409.4,964.9 410.4,965.2 411.3,965.5 412.3,965.7 413.3,966 414.2,966.3 415.2,966.6 416.1,966.8 417.1,967.1 418.1,967.4 419,967.7 420,968 420.9,968.2 421.9,968.5 422.8,968.8 423.8,969.2 424.7,969.5 425.7,969.8 426.6,970.1 427.6,970.5 428.5,970.8 429.5,971.2 430.4,971.5 431.3,971.8 432.3,972.2 433.2,972.5 434.1,972.9 435.1,973.2 436,973.6 437,973.9 437.9,974.3 438.8,974.6 439.8,975 440.7,975.3 441.7,975.7 442.6,976 443.5,976.3 444.5,976.7 445.4,977 446.3,977.4 447.3,977.7 448.2,978.1 449.2,978.4 450.1,978.8 451,979.1 452,979.5 452.9,979.8 453.8,980.2 454.8,980.6 455.7,980.9 456.6,981.3 457.5,981.7 458.5,982.1 459.4,982.4 460.3,982.8 461.2,983.2 462.2,983.6 463.1,984 464,984.3 464.9,984.7 465.9,985.1 466.8,985.5 467.7,985.8 468.7,986.2 469.6,986.6 470.5,987 471.4,987.4 472.4,987.7 473.3,988.1 474.2,988.5 475.1,988.9 476.1,989.3 477,989.6 477.9,990 478.8,990.4 479.8,990.8 480.7,991.2 481.6,991.5 482.5,991.9 483.5,992.3 484.4,992.7 485.3,993.1 486.2,993.5 487.1,993.9 488.1,994.2 489,994.6 489.9,995 490.8,995.4 491.7,995.8 492.7,996.2 493.6,996.6 494.5,997 495.4,997.4 496.3,997.8 497.3,998.2 498.2,998.6 499.1,999 500,999.3 500.9,999.7 501.9,1000.1 502.8,1000.5 503.7,1000.9 504.6,1001.3 505.5,1001.7 506.5,1002.1 507.4,1002.5 508.3,1002.9 509.2,1003.3 510.1,1003.7 511,1004.1 512,1004.5 512.9,1004.9 513.8,1005.3 514.7,1005.7 515.6,1006.2 516.5,1006.6 517.4,1007.1 518.2,1007.5 519.1,1008 520,1008.5 520.9,1009 521.8,1009.5 522.6,1009.9 523.5,1010.4 524.4,1010.9 525.2,1011.4 526.1,1011.9 527,1012.4 527.9,1012.9 528.7,1013.3 529.6,1013.8 530.5,1014.3 531.4,1014.8 532.2,1015.3 533.1,1015.8 534,1016.3 534.9,1016.8 535.7,1017.2 536.6,1017.7 537.5,1018.2 537.9,1018.5" fill="none" stroke="#f000f0" stroke-width="3.6" stroke-linejoin="round" stroke-linecap="butt"/>
<polyline points="107.5,907.9 108.5,907.9 109.5,908 110.5,908 111.5,908 112.5,908 113.5,908.1 114.5,908.1 115.5,908.1 116.5,908.1 117.5,908.2 118.5,908.2 119.5,908.2 120.5,908.3 121.6,908.3 122.6,908.3 123.6,908.4 124.6,908.4 125.6,908.5 126.6,908.5 127.6,908.5 128.6,908.6 129.6,908.6 130.6,908.7 131.6,908.7 132.6,908.8 133.6,908.8 134.6,908.9 135.6,908.9 136.6,909 137.6,909 138.6,909.1 139.6,909.1 140.6,909.2 141.6,909.2 142.6,909.3 143.6,909.3 144.6,909.4 145.6,909.5 146.6,909.5 147.6,909.6 148.6,909.6 149.6,909.7 150.6,909.8 151.6,909.8 152.6,909.9 153.6,910 154.6,910 155.6,910.1 156.6,910.2 157.6,910.2 158.6,910.3 159.6,910.4 160.6,910.5 161.6,910.5 162.6,910.6 163.6,910.7 164.6,910.8 165.6,910.9 166.6,910.9 167.6,911 168.6,911.1 169.6,911.2 170.5,911.3 171.5,911.4 172.5,911.5 173.5,911.5 174.5,911.6 175.5,911.7 176.5,911.8 177.5,911.9 178.5,912 179.5,912.1 180.5,912.2 181.5,912.3 182.5,912.4 183.5,912.5 184.5,912.6 185.5,912.7 186.5,912.8 187.5,912.9 188.5,913 189.5,913.1 190.4,913.2 191.4,913.3 192.4,913.4 193.4,913.5 194.4,913.6 195.4,913.7 196.4,913.9 197.4,914 198.4,914.1 199.4,914.2 200.4,914.3 201.4,914.4 202.4,914.6 203.4,914.7 204.3,914.8 205.3,914.9 206.3,915 207.3,915.2 208.3,915.3 209.3,915.4 210.3,915.5 211.3,915.7 212.3,915.8 213.3,915.9 214.2,916 215.2,916.2 216.2,916.3 217.2,916.4 218.2,916.6 219.2,916.7 220.2,916.8 221.2,917 222.2,917.1 223.2,917.3 224.1,917.4 225.1,917.5 226.1,917.7 227.1,917.8 228.1,918 229.1,918.1 230.1,918.3 231.1,918.4 232,918.6 233,918.7 234,918.9 235,919 236,919.2 237,919.3 238,919.5 238.9,919.6 239.9,919.8 240.9,919.9 241.9,920.1 242.9,920.3 243.9,920.4 244.9,920.6 245.8,920.7 246.8,920.9 247.8,921.1 248.8,921.2 249.8,921.4 250.8,921.6 251.7,921.7 252.7,921.9 253.7,922.1 254.7,922.2 255.7,922.4 256.7,922.6 257.6,922.7 258.6,922.9 259.6,923.1 260.6,923.3 261.6,923.5 262.5,923.6 263.5,923.8 264.5,924 265.5,924.2 266.5,924.4 267.5,924.5 268.4,924.7 269.4,924.9 270.4,925.1 271.4,925.3 272.4,925.5 273.3,925.7 274.3,925.8 275.3,926 276.3,926.2 277.3,926.4 278.2,926.6 279.2,926.8 280.2,927 281.2,927.2 282.1,927.4 283.1,927.6 284.1,927.8 285.1,928 286.1,928.2 287,928.4 288,928.6 289,928.8 290,929 290.9,929.2 291.9,929.4 292.9,929.6 293.9,929.8 294.8,930.1 295.8,930.3 296.8,930.5 297.8,930.7 298.7,930.9 299.7,931.1 300.7,931.3 301.7,931.6 302.6,931.8 303.6,932 304.6,932.2 305.6,932.4 306.5,932.6 307.5,932.9 308.5,933.1 309.4,933.3 310.4,933.5 311.4,933.8 312.4,934 313.3,934.2 314.3,934.5 315.3,934.7 316.3,934.9 317.2,935.1 318.2,935.4 319.2,935.6 320.1,935.8 321.1,936.1 322.1,936.3 323,936.6 324,936.8 325,937 326,937.3 326.9,937.5 327.9,937.8 328.9,938 329.8,938.2 330.8,938.5 331.8,938.7 332.7,939 333.7,939.2 334.7,939.5 335.6,939.7 336.6,940 337.6,940.2 338.5,940.5 339.5,940.7 340.5,941 341.4,941.2 342.4,941.5 343.4,941.8 344.3,942 345.3,942.3 346.3,942.5 347.2,942.8 348.2,943.1 349.2,943.3 350.1,943.6 351.1,943.8 352,944.1 353,944.4 354,944.6 354.9,944.9 355.9,945.2 356.9,945.5 357.8,945.7 358.8,946 359.7,946.3 360.7,946.5 361.7,946.8 362.6,947.1 363.6,947.4 364.6,947.6 365.5,947.9 366.5,948.2 367.4,948.5 368.4,948.8 369.4,949 370.3,949.3 371.3,949.6 372.2,949.9 373.2,950.2 374.2,950.5 375.1,950.8 376.1,951 377,951.3 378,951.6 378.9,951.9 379.9,952.2 380.9,952.5 381.8,952.8 382.8,953.1 383.7,953.4 384.7,953.7 385.6,954 386.6,954.3 387.6,954.6 388.5,954.9 389.5,955.2 390.4,955.5 391.4,955.8 392.3,956.1 393.3,956.4 394.2,956.7 395.2,957 396.1,957.3 397.1,957.6 398.1,957.9 399,958.2 400,958.5 400.9,958.8 401.9,959.2 402.8,959.5 403.8,959.8 404.7,960.1 405.7,960.4 406.6,960.7 407.6,961.1 408.5,961.4 409.5,961.7 410.4,962 411.4,962.3 412.3,962.7 413.3,963 414.2,963.3 415.2,963.6 416.1,963.9 417.1,964.3 418,964.6 419,964.9 419.9,965.3 420.9,965.6 421.8,965.9 422.8,966.3 423.7,966.6 424.6,966.9 425.6,967.3 426.5,967.6 427.5,967.9 428.4,968.3 429.4,968.6 430.3,968.9 431.3,969.3 432.2,969.6 433.2,970 434.1,970.3 435,970.6 436,971 436.9,971.3 437.9,971.7 438.8,972 439.8,972.4 440.7,972.7 441.6,973.1 442.6,973.4 443.5,973.8 444.5,974.1 445.4,974.5 446.4,974.8 447.3,975.2 448.2,975.5 449.2,975.9 450.1,976.3 451.1,976.6 452,977 452.9,977.3 453.9,977.7 454.8,978.1 455.7,978.4 456.7,978.8 457.6,979.1 458.6,979.5 459.5,979.9 460.4,980.2 461.4,980.6 462.3,981 463.2,981.4 464.2,981.7 465.1,982.1 466,982.5 467,982.9 467.9,983.2 468.8,983.6 469.7,984 470.7,984.4 471.6,984.8 472.5,985.1 473.5,985.5 474.4,985.9 475.3,986.3 476.2,986.7 477.2,987.1 478.1,987.5 479,987.9 479.9,988.3 480.8,988.6 481.8,989 482.7,989.4 483.6,989.8 484.5,990.2 485.4,990.6 486.3,991 487.3,991.5 488.2,991.9 489.1,992.3 490,992.7 490.9,993.1 491.8,993.5 492.7,993.9 493.6,994.3 494.5,994.7 495.4,995.2 496.3,995.6 497.2,996 498.1,996.4 499,996.8 499.9,997.3 500.8,997.7 501.7,998.1 502.6,998.5 503.5,999 504.4,999.4 505.3,999.8 506.2,1000.3 507.1,1000.7 508,1001.1 508.9,1001.6 509.8,1002 510.7,1002.5 511.5,1002.9 512.4,1003.4 513.3,1003.8 514.2,1004.3 515.1,1004.7 515.9,1005.2 516.8,1005.6 517.7,1006.1 518.6,1006.5 519.4,1007 520.3,1007.5 521.2,1007.9 522,1008.4 522.9,1008.9 523.8,1009.3 524.6,1009.8 525.5,1010.3 526.3,1010.8 527.2,1011.3 528,1011.7 528.9,1012.2 529.7,1012.7 530.6,1013.2 531.4,1013.8 532.2,1014.3 533,1014.8 533.8,1015.3 534.7,1015.8 535.5,1016.4 536.3,1016.9 537,1017.5 537.8,1018 538.6,1018.6 539.4,1019.2 540.1,1019.8 540.9,1020.4 541.6,1021 542.4,1021.6 543.1,1022.2 543.8,1022.8 544.5,1023.5 545.2,1024.1 545.9,1024.8 546.6,1025.4 547.3,1026.1 547.9,1026.8 548.6,1027.5 549.2,1028.2 549.9,1028.9 550.5,1029.7 551.1,1030.4 551.7,1031.2 552.3,1032 552.8,1032.7 553.4,1033.5 554,1034.4 554.5,1035.2 555,1036 555.5,1036.9 556,1037.7 556.5,1038.6 557,1039.5 557.5,1040.3 558,1041.2 558.4,1042.1 558.9,1043.1 559.3,1044 559.7,1044.9 560.1,1045.8 560.6,1046.8 561,1047.7 561.4,1048.7 561.7,1049.7 562.1,1050.6 562.5,1051.6 562.8,1052.6 563.2,1053.5 563.6,1054.5 563.9,1055.5 564.2,1056.5 564.6,1057.5 564.9,1058.5 565.2,1059.5 565.5,1060.5 565.8,1061.5 566.1,1062.5 566.4,1063.5 566.7,1064.5 567,1065.6 567.3,1066.6 567.6,1067.6 567.9,1068.6 568.1,1069.6 568.4,1070.6 568.7,1071.6 568.9,1072.6 569.2,1073.6 569.4,1074.6 569.7,1075.6 570,1076.6 570.2,1077.6 570.5,1078.6 570.7,1079.5 570.9,1080.5 571.2,1081.5 571.4,1082.5 571.7,1083.5 571.9,1084.4 572.1,1085.4 572.4,1086.4 572.6,1087.4 572.8,1088.3 573.1,1089.3 573.3,1090.3 573.5,1091.2 573.7,1092.2 574,1093.2 574.2,1094.1 574.4,1095.1 574.6,1096 574.8,1097 575.1,1098 575.3,1098.9 575.5,1099.9 575.7,1100.8 575.9,1101.8 576.2,1102.7 576.4,1103.7 576.6,1104.6 576.8,1105.6 577,1106.5 577.3,1107.5 577.5,1108.4 577.7,1109.4 577.9,1110.3 578.2,1111.3 578.4,1112.2 578.6,1113.2 578.8,1114.1 579.1,1115.1 579.3,1116 579.5,1117 579.8,1117.9 580,1118.8 580.2,1119.8 580.5,1120.7 580.7,1121.7 580.9,1122.6 581.2,1123.6 581.4,1124.5 581.7,1125.5 581.9,1126.4 582.2,1127.3 582.4,1128.3 582.7,1129.2 582.9,1130.2 583.2,1131.1 583.5,1132.1 583.7,1133 584,1134 584.3,1134.9 584.6,1135.9 584.9,1136.8 585.1,1137.8 585.4,1138.7 585.7,1139.7 586,1140.6 586.3,1141.6 586.6,1142.5 586.9,1143.5 587.2,1144.5 587.6,1145.4 587.9,1146.4 588.2,1147.3 588.5,1148.3 588.9,1149.3 589.2,1150.2 589.5,1151.2 589.9,1152.2 590.3,1153.1 590.6,1154.1 591,1155.1 591.3,1156.1 591.7,1157 592.1,1158 592.5,1159 592.9,1159.9 593.3,1160.9 593.7,1161.8 594.2,1162.8 594.6,1163.7 595,1164.6 595.5,1165.6 596,1166.5 596.5,1167.4 597,1168.3 597.5,1169.1 598,1170 598.6,1170.8 599.1,1171.6 599.7,1172.5 600.3,1173.2 600.9,1174 601.6,1174.8 602.2,1175.5 602.9,1176.2 603.6,1176.9 604.3,1177.5 605,1178.2 605.7,1178.8 606.5,1179.4 607.2,1179.9 608,1180.5 608.8,1181 609.6,1181.4 610.5,1181.9 611.3,1182.3 612.1,1182.7 613,1183.1 613.9,1183.4 614.8,1183.7 615.7,1184 616.6,1184.3 617.5,1184.5 618.5,1184.8 619.4,1185 620.4,1185.2 621.3,1185.4 622.3,1185.5 623.3,1185.7 624.3,1185.8 625.3,1185.9 626.3,1186 627.3,1186.1 628.3,1186.1 629.4,1186.2 630.4,1186.3 631.4,1186.3 632.5,1186.3 633.5,1186.3 634.5,1186.4 635.6,1186.4 636.6,1186.4 637.7,1186.4 638.7,1186.4 639.8,1186.3 640.8,1186.3 641.8,1186.3 642.9,1186.3 643.9,1186.3 644.9,1186.3 646,1186.3 647,1186.3 648,1186.3 649,1186.3 650,1186.3 651,1186.3 652,1186.3 653,1186.3 654,1186.3 654.9,1186.4 655.9,1186.4 656.8,1186.5 657.8,1186.6 658.7,1186.7" fill="none" stroke="#0000e0" stroke-width="3.7" stroke-linejoin="round" stroke-linecap="butt"/>
<rect x="104.2" y="848" width="558.5" height="341.6" fill="none" stroke="#000" stroke-width="7"/>
<rect x="147.5" y="1180.1" width="6" height="7" fill="#000"/>
<rect x="194" y="1180.1" width="6" height="7" fill="#000"/>
<rect x="240.5" y="1180.1" width="6" height="7" fill="#000"/>
<rect x="287" y="1180.1" width="6" height="7" fill="#000"/>
<rect x="333.5" y="1180.1" width="6" height="7" fill="#000"/>
<rect x="380" y="1180.1" width="6" height="7" fill="#000"/>
<rect x="426.5" y="1180.1" width="6" height="7" fill="#000"/>
<rect x="473" y="1180.1" width="6" height="7" fill="#000"/>
<rect x="519.5" y="1180.1" width="6" height="7" fill="#000"/>
<rect x="566" y="1180.1" width="6" height="7" fill="#000"/>
<rect x="612.5" y="1180.1" width="6" height="7" fill="#000"/>
<rect x="106.7" y="1121" width="6" height="6" fill="#000"/>
<rect x="106.7" y="1054.9" width="6" height="6" fill="#000"/>
<rect x="106.7" y="988.9" width="6" height="6" fill="#000"/>
<rect x="106.7" y="922.8" width="6" height="6" fill="#000"/>
<rect x="106.7" y="856.8" width="6" height="6" fill="#000"/>
<rect x="654.2" y="1102.2" width="6" height="6" fill="#000"/>
<rect x="654.2" y="1018" width="6" height="6" fill="#000"/>
<rect x="654.2" y="933.8" width="6" height="6" fill="#000"/>
<rect x="656" y="850" width="4.2" height="5.2" fill="#000"/>
<text transform="translate(66.60,868.26) scale(1.0384,1)" font-family='"Liberation Serif", serif' font-size="24.18" font-weight="normal">25</text>
<text transform="translate(79.75,1132.09) scale(1.0384,1)" font-family='"Liberation Serif", serif' font-size="24.18" font-weight="normal">5</text>
<text transform="translate(67.20,1066.04) scale(1.0384,1)" font-family='"Liberation Serif", serif' font-size="24.18" font-weight="normal">10</text>
<text transform="translate(67.20,1000.11) scale(1.0384,1)" font-family='"Liberation Serif", serif' font-size="24.18" font-weight="normal">15</text>
<text transform="translate(67.20,933.94) scale(1.0384,1)" font-family='"Liberation Serif", serif' font-size="24.18" font-weight="normal">20</text>
<text transform="translate(80.35,1198.74) scale(1.0384,1)" font-family='"Liberation Serif", serif' font-size="24.18" font-weight="normal">0</text>
<text transform="translate(669.20,859.64) scale(1.0826,1)" font-family='"Liberation Serif", serif' font-size="23.24" font-weight="normal">4000</text>
<text transform="translate(667.84,945.74) scale(1.0826,1)" font-family='"Liberation Serif", serif' font-size="23.24" font-weight="normal">3000</text>
<text transform="translate(668.09,1030.04) scale(1.0826,1)" font-family='"Liberation Serif", serif' font-size="23.24" font-weight="normal">2000</text>
<text transform="translate(666.84,1113.94) scale(1.0826,1)" font-family='"Liberation Serif", serif' font-size="23.24" font-weight="normal">1000</text>
<text transform="translate(668.79,1196.84) scale(1.0826,1)" font-family='"Liberation Serif", serif' font-size="23.24" font-weight="normal">0</text>
<text transform="translate(179.86,1228.05) scale(1.0414,1)" font-family='"Liberation Serif", serif' font-size="32.65" font-weight="normal">50</text>
<text transform="translate(95.70,1228.05) scale(1.0414,1)" font-family='"Liberation Serif", serif' font-size="32.65" font-weight="normal">0</text>
<text transform="translate(263.95,1228.05) scale(1.0414,1)" font-family='"Liberation Serif", serif' font-size="32.65" font-weight="normal">100</text>
<text transform="translate(356.95,1228.05) scale(1.0414,1)" font-family='"Liberation Serif", serif' font-size="32.65" font-weight="normal">150</text>
<text transform="translate(450.80,1228.05) scale(1.0414,1)" font-family='"Liberation Serif", serif' font-size="32.65" font-weight="normal">200</text>
<text transform="translate(543.80,1228.05) scale(1.0414,1)" font-family='"Liberation Serif", serif' font-size="32.65" font-weight="normal">250</text>
<text transform="translate(636.63,1228.05) scale(1.0414,1)" font-family='"Liberation Serif", serif' font-size="32.65" font-weight="normal">300</text>
<text transform="translate(265.85,1264.77) scale(1.0245,1)" font-family='"Liberation Serif", serif' font-size="31.56" font-weight="normal">Temperature (K)</text>
<text transform="translate(51.80,1129.85) rotate(-90) scale(1.0103,1)" font-family='"Liberation Serif", serif' font-size="31.44" font-weight="normal">Moment (emu/g)</text>
<text transform="translate(751.57,1108.12) rotate(-90) scale(1.0370,1)" font-family='"Liberation Serif", serif' font-size="31.11" font-weight="normal"><tspan font-style="italic">&#967;</tspan><tspan font-size="0.6em" dy="-0.42em">-1</tspan><tspan dy="0.25em"> (g*Oe/emu)</tspan></text>
<line x1="378.3" y1="999.8" x2="415.4" y2="999.8" stroke="#ff00ff" stroke-width="4" stroke-linecap="butt"/>
<line x1="378.3" y1="1020.7" x2="415.4" y2="1020.7" stroke="#0000ff" stroke-width="4" stroke-linecap="butt"/>
<line x1="378.3" y1="1043.9" x2="415.4" y2="1043.9" stroke="#ff0000" stroke-width="3.4" stroke-linecap="butt"/>
<text transform="translate(425.25,1005.37) scale(0.9171,1)" font-family='"Liberation Serif", serif' font-size="16.32" font-weight="normal">ZFC</text>
<text transform="translate(425.56,1026.58) scale(0.9164,1)" font-family='"Liberation Serif", serif' font-size="16.18" font-weight="normal">FC</text>
<text transform="translate(429.31,1049.60) scale(1.0013,1)" font-family='"Liberation Serif", serif' font-size="17.61" font-weight="normal"><tspan font-style="italic">&#967;</tspan><tspan font-size="0.62em" dy="-0.5em">&#8722;1</tspan></text>
<text transform="translate(579.47,888.42) scale(1.0420,1)" font-family='"Liberation Serif", serif' font-size="23.80" font-weight="normal">1 kOe</text>
<text transform="translate(113.63,1163.79) scale(0.9891,1)" font-family='"Liberation Serif", serif' font-size="39.56" font-weight="normal">(c)</text>
</svg>
</body></html>
